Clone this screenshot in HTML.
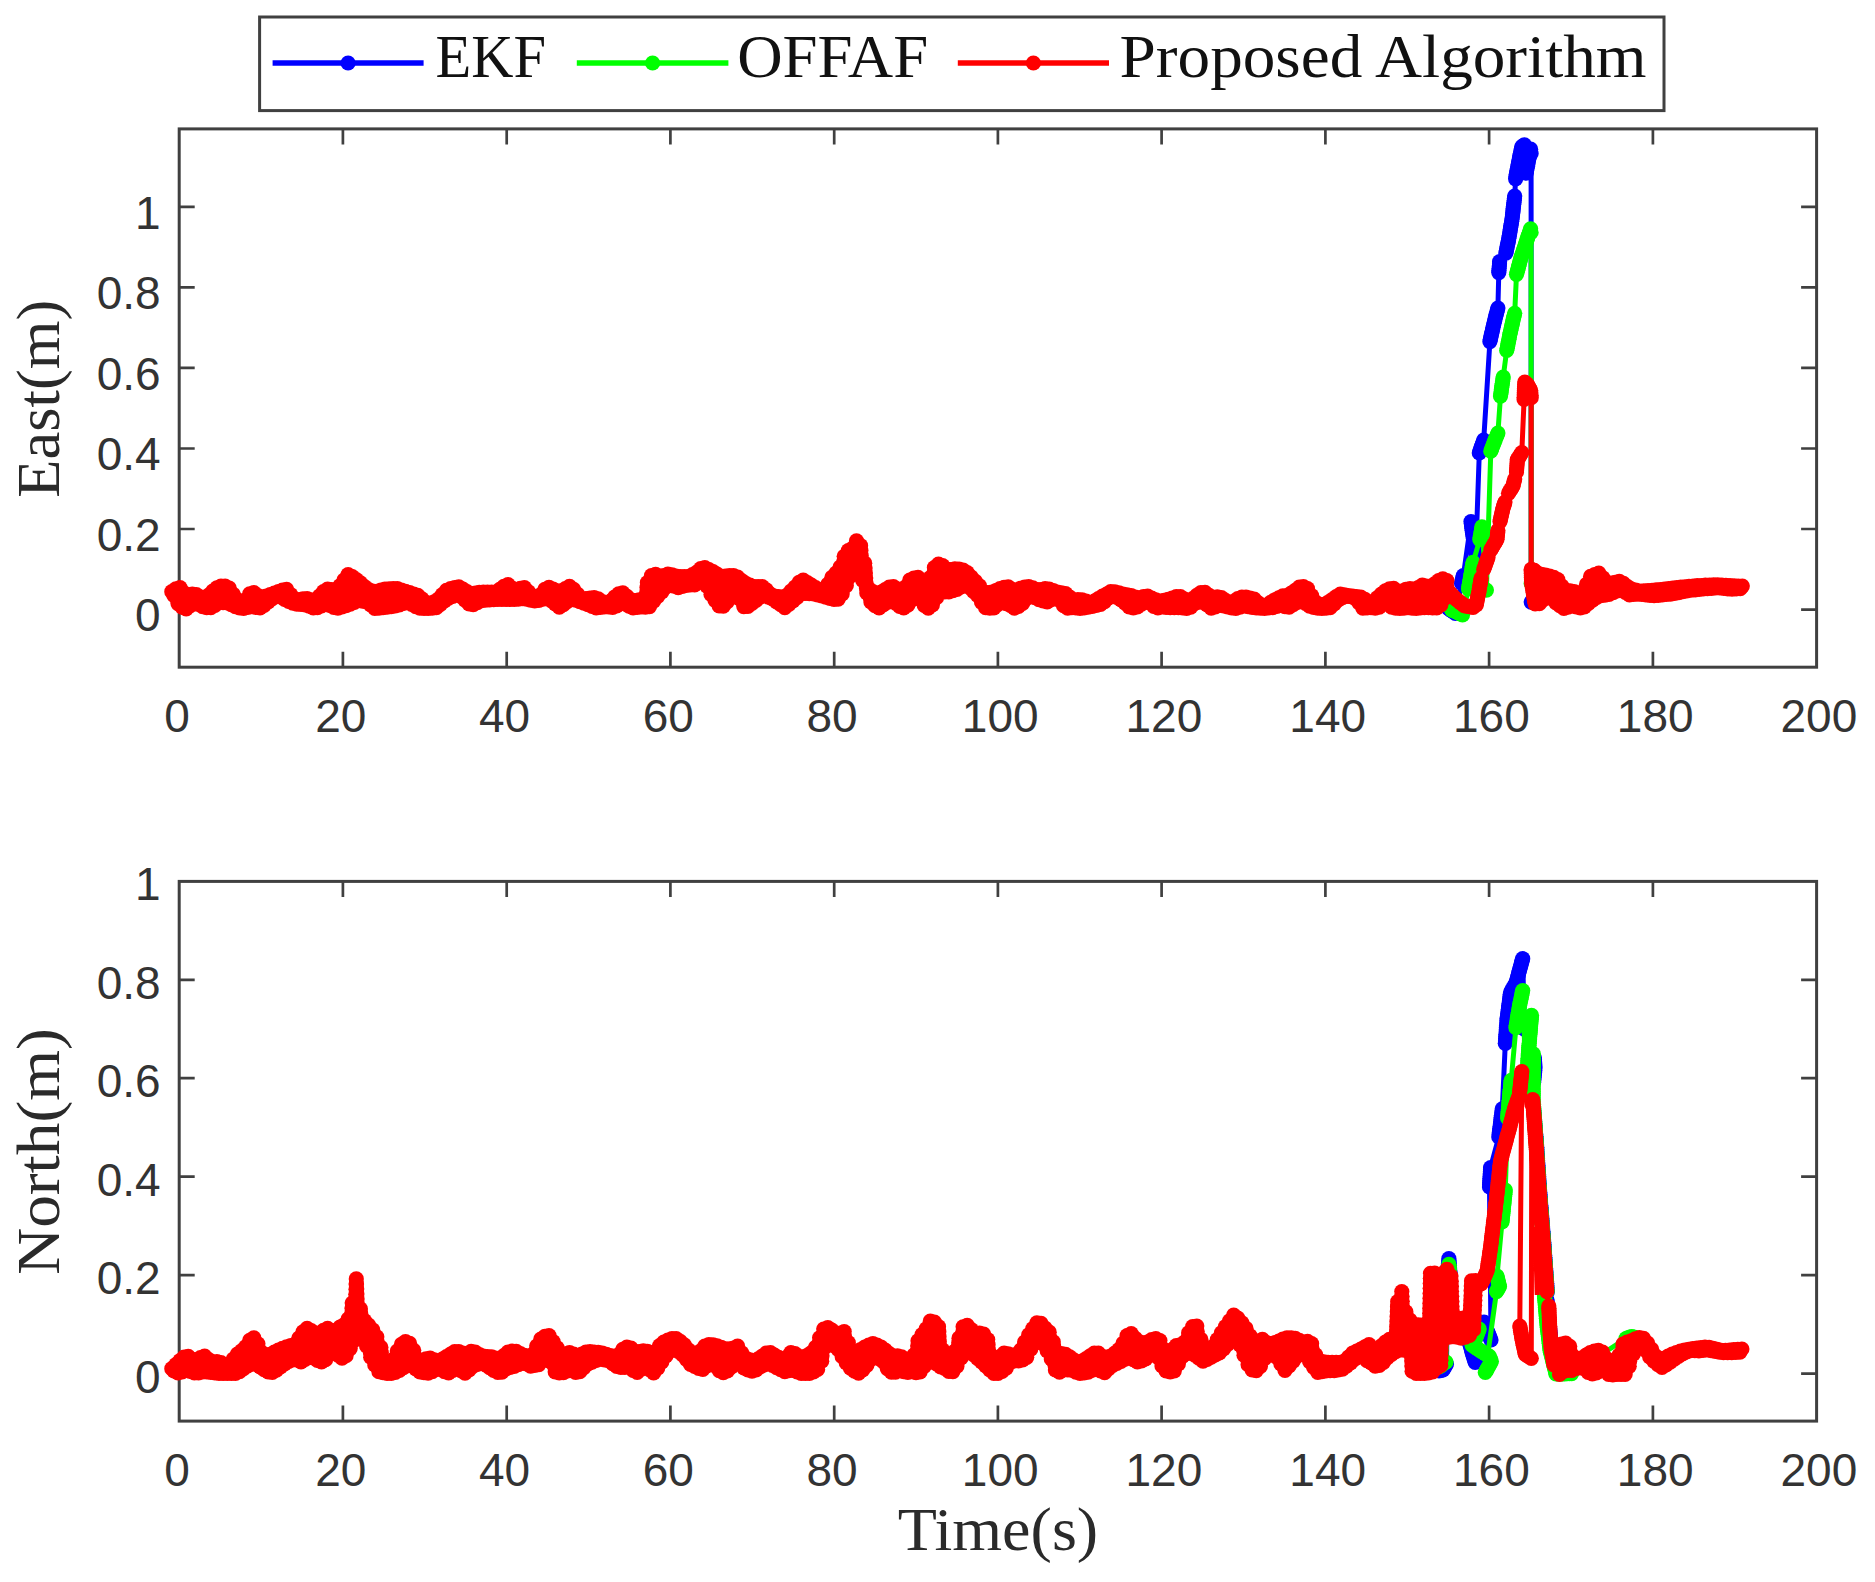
<!DOCTYPE html>
<html lang="en"><head><meta charset="utf-8"><title>Position error comparison</title>
<style>
html,body{margin:0;padding:0;background:#fff;}
body{width:1875px;height:1582px;overflow:hidden;}
svg{display:block;}
.tk{font-family:"Liberation Sans",sans-serif;font-size:46px;fill:#333;}
.lb{font-family:"Liberation Serif",serif;font-size:62px;}
</style></head><body>
<svg width="1875" height="1582" viewBox="0 0 1875 1582">
<defs>
<marker id="mb" markerUnits="userSpaceOnUse" markerWidth="20" markerHeight="20" refX="10" refY="10" viewBox="0 0 20 20"><circle cx="10" cy="10" r="7.6" fill="#0000ff"/></marker>
<marker id="mg" markerUnits="userSpaceOnUse" markerWidth="20" markerHeight="20" refX="10" refY="10" viewBox="0 0 20 20"><circle cx="10" cy="10" r="7.6" fill="#00ff00"/></marker>
<marker id="mr" markerUnits="userSpaceOnUse" markerWidth="20" markerHeight="20" refX="10" refY="10" viewBox="0 0 20 20"><circle cx="10" cy="10" r="7.6" fill="#ff0000"/></marker>
</defs>
<rect width="1875" height="1582" fill="#fff"/>
<rect x="259.6" y="17" width="1404.4" height="93.6" fill="#fff" stroke="#404040" stroke-width="3"/>
<line x1="272.6" y1="63" x2="423.6" y2="63" stroke="#0000ff" stroke-width="5.5"/>
<circle cx="348.1" cy="63" r="7.6" fill="#0000ff"/>
<text class="lb" x="435.6" y="77.1" fill="#111" textLength="110.5" lengthAdjust="spacingAndGlyphs">EKF</text>
<line x1="576.8" y1="63" x2="728.4" y2="63" stroke="#00ff00" stroke-width="5.5"/>
<circle cx="652.6" cy="63" r="7.6" fill="#00ff00"/>
<text class="lb" x="737.2" y="77.1" fill="#111" textLength="191.0" lengthAdjust="spacingAndGlyphs">OFFAF</text>
<line x1="957.8" y1="63" x2="1109.0" y2="63" stroke="#ff0000" stroke-width="5.5"/>
<circle cx="1033.4" cy="63" r="7.6" fill="#ff0000"/>
<text class="lb" x="1119.6" y="77.1" fill="#111" textLength="527.0" lengthAdjust="spacingAndGlyphs">Proposed Algorithm</text>
<rect x="179.2" y="128.9" width="1637.4" height="538.3" fill="#fff" stroke="#404040" stroke-width="3.0"/>
<path d="M342.9 667.2v-15.5M342.9 128.9v15.5M506.7 667.2v-15.5M506.7 128.9v15.5M670.4 667.2v-15.5M670.4 128.9v15.5M834.2 667.2v-15.5M834.2 128.9v15.5M997.9 667.2v-15.5M997.9 128.9v15.5M1161.6 667.2v-15.5M1161.6 128.9v15.5M1325.4 667.2v-15.5M1325.4 128.9v15.5M1489.1 667.2v-15.5M1489.1 128.9v15.5M1652.9 667.2v-15.5M1652.9 128.9v15.5M179.2 609.6h15.5M1816.6 609.6h-15.5M179.2 529.0h15.5M1816.6 529.0h-15.5M179.2 448.5h15.5M1816.6 448.5h-15.5M179.2 367.9h15.5M1816.6 367.9h-15.5M179.2 287.4h15.5M1816.6 287.4h-15.5M179.2 206.8h15.5M1816.6 206.8h-15.5" stroke="#404040" stroke-width="2.7" fill="none"/>
<text class="tk" x="177.1" y="731.8" text-anchor="middle">0</text>
<text class="tk" x="340.8" y="731.8" text-anchor="middle">20</text>
<text class="tk" x="504.6" y="731.8" text-anchor="middle">40</text>
<text class="tk" x="668.3" y="731.8" text-anchor="middle">60</text>
<text class="tk" x="832.1" y="731.8" text-anchor="middle">80</text>
<text class="tk" x="1000.2" y="731.8" text-anchor="middle">100</text>
<text class="tk" x="1163.9" y="731.8" text-anchor="middle">120</text>
<text class="tk" x="1327.7" y="731.8" text-anchor="middle">140</text>
<text class="tk" x="1491.4" y="731.8" text-anchor="middle">160</text>
<text class="tk" x="1655.2" y="731.8" text-anchor="middle">180</text>
<text class="tk" x="1818.9" y="731.8" text-anchor="middle">200</text>
<text class="tk" x="160.6" y="631.4" text-anchor="end">0</text>
<text class="tk" x="160.6" y="550.8" text-anchor="end">0.2</text>
<text class="tk" x="160.6" y="470.3" text-anchor="end">0.4</text>
<text class="tk" x="160.6" y="389.7" text-anchor="end">0.6</text>
<text class="tk" x="160.6" y="309.2" text-anchor="end">0.8</text>
<text class="tk" x="160.6" y="228.6" text-anchor="end">1</text>
<rect x="179.2" y="881.4" width="1637.4" height="539.7" fill="#fff" stroke="#404040" stroke-width="3.0"/>
<path d="M342.9 1421.1v-15.5M342.9 881.4v15.5M506.7 1421.1v-15.5M506.7 881.4v15.5M670.4 1421.1v-15.5M670.4 881.4v15.5M834.2 1421.1v-15.5M834.2 881.4v15.5M997.9 1421.1v-15.5M997.9 881.4v15.5M1161.6 1421.1v-15.5M1161.6 881.4v15.5M1325.4 1421.1v-15.5M1325.4 881.4v15.5M1489.1 1421.1v-15.5M1489.1 881.4v15.5M1652.9 1421.1v-15.5M1652.9 881.4v15.5M179.2 1373.6h15.5M1816.6 1373.6h-15.5M179.2 1275.1h15.5M1816.6 1275.1h-15.5M179.2 1176.7h15.5M1816.6 1176.7h-15.5M179.2 1078.2h15.5M1816.6 1078.2h-15.5M179.2 979.8h15.5M1816.6 979.8h-15.5" stroke="#404040" stroke-width="2.7" fill="none"/>
<text class="tk" x="177.1" y="1485.7" text-anchor="middle">0</text>
<text class="tk" x="340.8" y="1485.7" text-anchor="middle">20</text>
<text class="tk" x="504.6" y="1485.7" text-anchor="middle">40</text>
<text class="tk" x="668.3" y="1485.7" text-anchor="middle">60</text>
<text class="tk" x="832.1" y="1485.7" text-anchor="middle">80</text>
<text class="tk" x="1000.2" y="1485.7" text-anchor="middle">100</text>
<text class="tk" x="1163.9" y="1485.7" text-anchor="middle">120</text>
<text class="tk" x="1327.7" y="1485.7" text-anchor="middle">140</text>
<text class="tk" x="1491.4" y="1485.7" text-anchor="middle">160</text>
<text class="tk" x="1655.2" y="1485.7" text-anchor="middle">180</text>
<text class="tk" x="1818.9" y="1485.7" text-anchor="middle">200</text>
<text class="tk" x="160.6" y="1392.5" text-anchor="end">0</text>
<text class="tk" x="160.6" y="1294.0" text-anchor="end">0.2</text>
<text class="tk" x="160.6" y="1195.6" text-anchor="end">0.4</text>
<text class="tk" x="160.6" y="1097.1" text-anchor="end">0.6</text>
<text class="tk" x="160.6" y="998.7" text-anchor="end">0.8</text>
<text class="tk" x="160.6" y="900.2" text-anchor="end">1</text>
<text class="lb" fill="#2a2a2a" transform="translate(59.1,398.7) rotate(-90)" text-anchor="middle" textLength="198" lengthAdjust="spacingAndGlyphs">East(m)</text>
<text class="lb" fill="#2a2a2a" transform="translate(58.9,1151.6) rotate(-90)" text-anchor="middle" textLength="247" lengthAdjust="spacingAndGlyphs">North(m)</text>
<text class="lb" fill="#2a2a2a" x="997.9" y="1550.1" text-anchor="middle" textLength="200.5" lengthAdjust="spacingAndGlyphs">Time(s)</text>
<g>
<polyline points="1441.2,592.4 1442.1,594.4 1443.0,596.4 1443.9,598.4 1444.8,600.4 1445.7,602.3 1446.5,604.3 1447.4,606.3 1448.3,608.3 1450.1,609.6 1451.9,610.8 1453.6,612.0 1455.4,613.3 1461.6,583.5 1462.0,581.5 1462.5,579.6 1462.9,577.6 1463.4,575.6 1471.0,521.6 1471.3,523.8 1471.6,526.0 1471.9,528.2 1472.2,530.4 1472.5,532.5 1472.8,534.6 1473.1,536.6 1473.4,538.7 1473.7,540.8 1474.0,542.8 1474.4,545.3 1474.9,547.7 1475.3,550.1 1475.8,552.6 1479.3,452.9 1480.0,450.8 1480.8,448.7 1481.5,446.5 1482.2,444.4 1483.0,442.3 1483.7,440.2 1489.9,341.6 1490.4,339.6 1490.8,337.5 1491.2,335.5 1491.7,333.5 1492.1,331.4 1492.6,329.4 1493.0,327.3 1493.5,325.3 1494.0,323.1 1494.6,321.0 1495.1,318.8 1495.7,316.6 1496.2,314.5 1496.8,312.3 1497.3,310.1 1497.9,308.0 1498.8,272.6 1498.9,270.4 1499.1,268.2 1499.3,266.0 1499.5,263.8 1499.6,261.6 1505.8,253.1 1506.3,251.0 1506.7,248.8 1507.2,246.7 1507.6,244.6 1508.1,242.5 1508.5,240.4 1508.8,238.2 1509.2,236.1 1509.6,234.0 1509.9,231.9 1510.3,229.7 1510.6,227.6 1511.0,225.5 1511.3,223.4 1511.7,221.2 1512.0,219.1 1512.3,217.0 1512.5,214.9 1512.8,212.8 1513.0,210.7 1513.2,208.7 1513.5,206.6 1513.7,204.5 1514.0,202.4 1514.2,200.3 1514.4,198.2 1514.7,196.1 1515.6,178.8 1516.0,176.7 1516.3,174.6 1516.7,172.5 1517.1,170.5 1517.5,168.4 1517.9,166.3 1518.2,164.2 1518.7,162.1 1519.1,159.9 1519.6,157.7 1520.0,155.6 1520.4,153.4 1520.9,151.2 1521.3,149.1 1521.8,146.9 1523.1,145.8 1524.4,144.8 1526.2,173.1 1526.6,170.8 1527.0,168.5 1527.5,166.2 1527.9,163.9 1528.3,161.6 1528.7,159.5 1529.1,157.5 1529.5,155.4 1529.9,153.3 1530.2,151.3 1530.6,149.2 1531.1,153.6 1531.2,602.1" fill="none" stroke="#0000ff" stroke-width="5.0" stroke-linejoin="round" stroke-linecap="round" marker-start="url(#mb)" marker-mid="url(#mb)" marker-end="url(#mb)"/>
<polyline points="1443.0,592.4 1444.0,594.4 1445.0,596.3 1446.0,598.3 1446.9,600.3 1447.9,602.2 1448.9,604.2 1449.9,606.2 1450.9,608.1 1451.9,610.1 1454.0,611.0 1456.1,612.0 1458.2,613.0 1460.4,613.9 1462.5,614.9 1468.5,588.8 1468.9,586.6 1469.3,584.4 1469.6,582.2 1470.0,580.0 1470.4,577.8 1470.8,575.6 1471.2,573.4 1471.6,571.2 1471.9,568.9 1472.3,566.7 1472.7,564.5 1473.1,562.3 1479.8,539.6 1480.2,537.5 1480.5,535.4 1480.9,533.3 1481.2,531.2 1481.6,529.0 1481.9,526.9 1486.4,590.1 1490.8,451.2 1491.7,448.8 1492.6,446.5 1493.5,444.2 1494.3,441.9 1495.2,439.7 1496.1,437.5 1497.0,435.3 1497.9,433.1 1500.5,396.1 1500.8,394.0 1501.1,391.9 1501.4,389.7 1501.7,387.6 1502.0,385.5 1502.3,383.4 1502.6,381.2 1502.9,379.1 1503.2,377.0 1506.7,350.4 1507.2,348.2 1507.6,345.9 1508.1,343.7 1508.5,341.4 1508.9,339.2 1509.4,336.9 1509.8,334.6 1510.3,332.4 1510.8,330.3 1511.2,328.1 1511.7,326.0 1512.2,323.9 1512.7,321.8 1513.2,319.6 1513.7,317.5 1514.2,315.4 1514.7,313.3 1516.5,274.3 1517.0,272.3 1517.6,270.3 1518.1,268.2 1518.7,266.2 1519.2,264.2 1519.8,262.1 1520.3,260.1 1520.9,258.1 1521.5,256.1 1522.2,254.1 1522.9,252.1 1523.5,250.1 1524.2,248.1 1524.9,246.1 1525.5,244.1 1526.2,242.1 1526.9,239.9 1527.7,237.7 1528.4,235.5 1529.1,233.3 1529.9,231.1 1530.6,228.8 1531.1,232.4 1531.2,583.5" fill="none" stroke="#00ff00" stroke-width="5.0" stroke-linejoin="round" stroke-linecap="round" marker-start="url(#mg)" marker-mid="url(#mg)" marker-end="url(#mg)"/>
<polyline points="171.8,591.7 173.9,595.4 175.9,588.9 176.6,593.8 177.3,598.7 178.0,603.6 178.6,598.3 179.3,593.0 180.0,587.7 180.5,592.6 181.0,597.5 181.6,602.3 182.1,607.2 182.7,602.4 183.4,597.6 184.1,592.9 184.8,598.2 185.5,603.6 186.2,609.0 186.8,604.4 187.5,599.8 188.2,595.1 189.2,600.4 190.3,605.7 191.3,599.9 192.3,594.0 193.3,598.2 194.4,602.3 195.4,598.4 196.4,594.6 197.4,599.5 198.5,604.4 199.5,600.7 200.5,597.0 201.5,601.8 202.6,606.6 203.6,602.8 204.6,599.1 205.6,603.4 206.7,607.6 207.3,603.4 208.0,599.2 208.7,595.0 209.4,599.2 210.1,603.4 210.8,607.6 211.4,602.1 212.1,596.6 212.8,591.1 213.5,595.8 214.2,600.5 214.9,605.3 215.4,600.9 215.9,596.5 216.4,592.2 216.9,587.8 217.6,592.6 218.3,597.4 219.0,602.2 219.6,596.9 220.3,591.5 221.0,586.2 221.7,591.7 222.4,597.1 223.1,602.6 223.7,597.1 224.4,591.7 225.1,586.2 225.8,591.8 226.5,597.4 227.2,603.0 227.8,598.0 228.5,593.0 229.2,588.0 229.9,593.6 230.6,599.2 231.3,604.7 232.3,599.6 233.3,594.4 234.0,598.5 234.7,602.6 235.4,606.7 237.4,599.6 238.4,603.7 239.5,607.8 241.5,603.7 243.6,608.3 244.6,604.2 245.6,600.1 246.6,603.8 247.7,607.5 248.3,603.0 249.0,598.5 249.7,593.9 250.4,598.2 251.1,602.5 251.8,606.7 252.4,602.0 253.1,597.3 253.8,592.6 254.5,597.5 255.2,602.4 255.9,607.3 256.9,601.4 257.9,595.5 258.6,599.6 259.3,603.8 260.0,607.9 261.0,602.5 262.0,597.1 263.0,601.2 264.1,605.3 265.1,600.7 266.1,596.1 268.2,602.0 269.2,598.4 270.2,594.7 272.3,598.7 274.3,593.1 276.4,595.4 278.4,591.5 280.5,597.0 282.5,590.0 283.5,594.7 284.6,599.5 285.6,594.5 286.6,589.4 287.6,595.4 288.7,601.4 290.7,594.6 291.7,598.8 292.8,603.1 294.8,599.8 296.9,604.1 298.9,599.5 301.0,604.5 303.0,598.8 305.1,604.8 307.1,598.7 308.1,602.4 309.2,606.2 311.2,599.9 312.2,603.9 313.3,607.8 315.3,600.8 317.4,607.6 318.4,601.9 319.4,596.1 320.4,601.0 321.5,605.9 322.1,601.1 322.8,596.3 323.5,591.5 324.2,595.7 324.9,599.9 325.6,604.2 326.2,599.1 326.9,594.0 327.6,589.0 328.3,594.5 329.0,600.0 329.7,605.5 330.3,600.2 331.0,594.9 331.7,589.5 332.2,593.9 332.7,598.4 333.3,602.8 333.8,607.3 334.4,601.5 335.1,595.8 335.8,590.1 336.3,594.6 336.8,599.1 337.4,603.7 337.9,608.2 338.4,602.6 338.9,597.1 339.4,591.5 339.9,585.9 340.4,591.2 340.9,596.4 341.5,601.7 342.0,607.0 342.4,601.6 342.8,596.3 343.2,590.9 343.6,585.6 344.0,580.2 344.4,585.3 344.8,590.4 345.2,595.5 345.7,600.6 346.1,605.7 346.4,600.5 346.7,595.3 347.1,590.1 347.4,584.9 347.8,579.7 348.1,574.6 348.5,579.5 348.8,584.4 349.1,589.4 349.5,594.3 349.8,599.3 350.2,604.2 350.5,599.6 350.8,595.0 351.2,590.3 351.5,585.7 351.9,581.1 352.2,576.5 352.6,581.7 353.0,586.8 353.4,592.0 353.9,597.2 354.3,602.3 354.7,597.8 355.1,593.2 355.5,588.6 355.9,584.0 356.3,579.5 356.8,584.7 357.3,590.0 357.9,595.2 358.4,600.5 358.9,596.0 359.4,591.6 359.9,587.2 360.4,582.8 360.9,587.4 361.4,592.0 362.0,596.6 362.5,601.1 363.1,596.3 363.8,591.4 364.5,586.5 365.2,591.6 365.9,596.8 366.6,602.0 367.6,595.8 368.6,589.6 369.3,594.7 370.0,599.8 370.7,604.8 371.3,600.3 372.0,595.7 372.7,591.2 373.4,596.9 374.1,602.7 374.8,608.4 375.4,602.7 376.1,597.1 376.8,591.4 377.5,597.0 378.2,602.6 378.9,608.1 379.4,603.7 379.9,599.2 380.4,594.7 380.9,590.2 381.4,594.6 381.9,599.0 382.5,603.3 383.0,607.7 383.5,603.1 384.0,598.5 384.5,593.8 385.0,589.2 385.5,593.7 386.0,598.2 386.6,602.7 387.1,607.2 387.6,602.6 388.1,598.0 388.6,593.5 389.1,588.9 389.6,593.3 390.1,597.8 390.7,602.2 391.2,606.6 391.7,602.1 392.2,597.6 392.7,593.1 393.2,588.6 393.7,593.0 394.2,597.3 394.8,601.7 395.3,606.0 395.8,601.7 396.3,597.3 396.8,592.9 397.3,588.6 398.0,594.0 398.7,599.5 399.4,604.9 400.0,599.9 400.7,594.9 401.4,590.0 402.1,594.5 402.8,599.0 403.5,603.5 404.5,597.4 405.5,591.3 406.5,596.8 407.6,602.2 408.6,597.4 409.6,592.7 410.6,598.5 411.7,604.4 412.7,599.2 413.7,594.1 414.4,598.2 415.1,602.4 415.8,606.6 416.8,601.0 417.8,595.4 418.5,599.6 419.2,603.9 419.9,608.1 420.9,603.4 421.9,598.8 422.9,603.5 424.0,608.3 426.0,602.5 428.1,608.5 430.1,603.0 432.2,608.1 434.2,601.8 436.3,607.7 437.3,603.4 438.3,599.2 440.4,604.5 441.4,599.6 442.4,594.7 444.5,601.0 445.5,595.7 446.5,590.3 447.5,594.2 448.6,598.1 449.6,593.3 450.6,588.5 451.6,592.4 452.7,596.4 453.7,591.9 454.7,587.5 456.8,594.7 457.8,590.8 458.8,586.8 459.8,591.6 460.9,596.4 462.9,589.2 463.9,594.7 465.0,600.2 466.0,595.9 467.0,591.5 467.7,595.7 468.4,599.8 469.1,604.0 470.1,598.9 471.1,593.8 472.1,599.3 473.2,604.7 474.2,598.9 475.2,593.1 476.2,597.9 477.3,602.7 478.3,597.6 479.3,592.4 480.3,596.5 481.4,600.6 482.4,596.3 483.4,592.0 484.4,596.1 485.5,600.2 486.5,596.1 487.5,592.0 488.5,595.9 489.6,599.9 490.6,595.9 491.6,592.0 492.6,595.8 493.7,599.6 494.7,595.8 495.7,592.0 496.7,595.7 497.8,599.5 498.8,594.5 499.8,589.4 500.8,594.5 501.9,599.5 502.5,595.1 503.2,590.7 503.9,586.4 504.6,590.7 505.3,595.1 506.0,599.5 506.6,594.5 507.3,589.5 508.0,584.5 508.7,589.5 509.4,594.5 510.1,599.5 511.1,593.8 512.1,588.2 513.1,593.8 514.2,599.5 515.2,595.1 516.2,590.6 517.2,594.9 518.3,599.1 519.3,593.8 520.3,588.4 521.3,593.5 522.4,598.7 523.4,593.1 524.4,587.5 525.4,593.3 526.5,599.2 527.5,595.5 528.5,591.9 529.5,596.0 530.6,600.1 532.6,596.2 534.7,600.9 536.7,599.6 538.8,600.4 540.8,594.5 542.9,599.1 543.9,594.2 544.9,589.4 545.9,593.5 547.0,597.7 548.0,592.5 549.0,587.4 549.7,591.8 550.4,596.3 551.1,600.7 552.1,594.9 553.1,589.1 553.8,594.1 554.5,599.0 555.2,604.0 555.8,599.6 556.5,595.2 557.2,590.9 557.9,596.3 558.6,601.7 559.3,607.2 559.9,601.8 560.6,596.5 561.3,591.1 562.0,595.7 562.7,600.2 563.4,604.7 564.0,599.4 564.7,594.1 565.4,588.7 566.1,592.9 566.8,597.1 567.5,601.3 568.1,596.3 568.8,591.3 569.5,586.4 570.2,590.5 570.9,594.7 571.6,598.8 572.6,594.1 573.6,589.3 574.6,594.7 575.7,600.2 577.7,594.4 579.8,601.6 581.8,599.2 583.9,603.1 585.9,598.7 588.0,604.7 590.0,598.2 591.0,602.3 592.1,606.4 593.1,602.0 594.1,597.7 595.1,602.8 596.2,608.0 597.2,603.4 598.2,598.8 599.2,603.2 600.3,607.5 602.3,601.6 604.4,607.0 606.4,604.3 608.5,606.9 610.5,601.2 612.6,607.4 613.6,602.3 614.6,597.1 615.6,601.5 616.7,605.8 617.7,599.8 618.7,593.9 619.7,598.3 620.8,602.7 621.8,597.8 622.8,592.8 623.8,598.4 624.9,604.0 625.9,600.2 626.9,596.3 627.9,601.3 629.0,606.2 631.0,599.9 632.0,603.9 633.1,607.9 634.1,604.3 635.1,600.6 637.2,607.4 638.2,603.7 639.2,599.9 641.3,607.0 642.3,603.0 643.3,599.0 644.3,603.0 645.4,607.1 645.8,602.2 646.2,597.3 646.6,592.4 647.0,587.5 647.4,582.6 647.8,587.4 648.2,592.2 648.6,597.0 649.1,601.8 649.5,606.6 649.8,601.4 650.1,596.3 650.5,591.1 650.8,585.9 651.2,580.8 651.5,575.6 651.9,580.7 652.3,585.8 652.7,590.9 653.2,596.0 653.6,601.1 654.0,595.8 654.4,590.4 654.8,585.1 655.2,579.8 655.6,574.4 656.1,579.9 656.6,585.4 657.2,590.9 657.7,596.4 658.2,591.3 658.7,586.2 659.2,581.1 659.7,576.0 660.4,581.2 661.1,586.5 661.8,591.8 662.4,586.4 663.1,581.0 663.8,575.7 664.8,581.4 665.9,587.2 666.5,582.8 667.2,578.5 667.9,574.1 668.9,579.4 670.0,584.6 671.0,579.7 672.0,574.9 673.0,580.6 674.1,586.2 675.1,581.2 676.1,576.1 677.1,581.8 678.2,587.6 679.2,582.1 680.2,576.6 681.2,581.6 682.3,586.5 683.3,581.6 684.3,576.6 685.3,581.1 686.4,585.5 687.4,581.1 688.4,576.6 689.4,580.8 690.5,585.0 691.5,579.8 692.5,574.6 693.5,579.8 694.6,585.0 695.2,580.7 695.9,576.5 696.6,572.3 697.6,577.4 698.7,582.5 699.3,577.9 700.0,573.3 700.7,568.7 701.7,573.8 702.8,578.9 703.8,573.2 704.8,567.5 705.3,572.1 705.8,576.8 706.4,581.5 706.9,586.2 707.5,580.6 708.2,575.1 708.9,569.5 709.3,574.5 709.7,579.5 710.1,584.4 710.6,589.4 711.0,594.4 711.4,589.8 711.8,585.3 712.2,580.7 712.6,576.2 713.0,571.7 713.4,576.5 713.7,581.3 714.0,586.1 714.4,590.9 714.7,595.7 715.1,600.5 715.5,595.2 715.9,590.0 716.3,584.7 716.7,579.4 717.1,574.1 717.5,579.4 717.8,584.7 718.1,590.0 718.5,595.3 718.8,600.6 719.2,605.9 719.5,601.0 719.8,596.1 720.2,591.2 720.5,586.3 720.9,581.5 721.2,576.6 721.6,581.5 721.9,586.5 722.2,591.4 722.6,596.4 722.9,601.3 723.3,606.2 723.6,601.2 723.9,596.2 724.3,591.2 724.6,586.1 725.0,581.1 725.3,576.1 725.7,581.2 726.1,586.3 726.5,591.4 727.0,596.5 727.4,601.6 727.8,596.4 728.2,591.2 728.6,586.1 729.0,580.9 729.4,575.7 729.9,580.9 730.4,586.2 731.0,591.4 731.5,596.6 732.0,591.4 732.5,586.2 733.0,580.9 733.5,575.7 734.2,581.0 734.9,586.2 735.6,591.5 736.2,586.7 736.9,582.0 737.6,577.2 738.1,582.6 738.6,588.0 739.2,593.4 739.7,598.8 740.2,594.2 740.7,589.6 741.2,585.0 741.7,580.5 742.1,585.7 742.5,590.9 742.9,596.1 743.4,601.3 743.8,606.6 744.2,601.9 744.6,597.3 745.0,592.6 745.4,588.0 745.8,583.3 746.2,587.9 746.6,592.6 747.0,597.2 747.5,601.8 747.9,606.4 748.4,601.0 748.9,595.7 749.4,590.3 749.9,585.0 750.4,589.6 750.9,594.2 751.5,598.9 752.0,603.5 752.6,597.9 753.3,592.2 754.0,586.6 754.7,591.2 755.4,595.8 756.1,600.4 756.7,595.8 757.4,591.2 758.1,586.6 759.1,591.9 760.2,597.1 761.2,591.9 762.2,586.6 763.2,591.0 764.3,595.5 766.3,589.9 768.4,597.1 770.4,594.0 772.5,598.9 774.5,596.0 776.6,601.8 778.6,596.6 779.6,600.7 780.7,604.7 781.7,601.0 782.7,597.2 783.7,602.4 784.8,607.6 785.8,601.4 786.8,595.3 787.8,599.8 788.9,604.3 789.5,599.9 790.2,595.6 790.9,591.2 791.9,596.1 793.0,601.0 793.6,596.3 794.3,591.7 795.0,587.0 796.0,592.2 797.1,597.4 797.7,592.4 798.4,587.4 799.1,582.4 800.1,588.1 801.2,593.8 801.8,589.2 802.5,584.7 803.2,580.1 803.9,584.5 804.6,589.0 805.3,593.4 806.3,588.0 807.3,582.6 808.3,588.2 809.4,593.7 810.4,589.4 811.4,585.1 812.4,589.6 813.5,594.0 815.5,587.5 816.5,591.2 817.6,595.0 819.6,589.5 821.7,596.0 823.7,591.6 825.8,597.1 826.4,592.9 827.1,588.6 827.8,584.4 828.5,589.1 829.2,593.8 829.9,598.5 830.4,593.2 830.9,587.9 831.4,582.6 831.9,577.3 832.4,582.9 832.9,588.4 833.5,594.0 834.0,599.5 834.4,594.2 834.8,589.0 835.2,583.7 835.6,578.5 836.0,573.2 836.4,578.4 836.8,583.6 837.2,588.8 837.7,594.0 838.1,599.2 838.4,593.9 838.7,588.6 839.1,583.2 839.4,577.9 839.8,572.6 840.1,567.2 840.5,572.5 840.9,577.8 841.3,583.2 841.8,588.5 842.2,593.8 842.5,588.4 842.7,583.1 843.0,577.7 843.3,572.4 843.6,567.0 843.9,561.7 844.2,556.3 844.6,561.2 844.9,566.1 845.2,571.0 845.6,575.9 845.9,580.8 846.3,585.6 846.6,580.6 846.8,575.6 847.1,570.7 847.4,565.7 847.7,560.7 848.0,555.7 848.3,550.7 848.7,555.7 849.1,560.8 849.5,565.9 850.0,571.0 850.4,576.1 850.7,571.5 851.0,566.8 851.4,562.2 851.7,557.6 852.1,553.0 852.4,548.4 852.8,553.1 853.2,557.8 853.6,562.6 854.1,567.3 854.5,572.0 854.8,566.8 855.1,561.6 855.5,556.5 855.8,551.3 856.2,546.1 856.5,540.9 857.0,546.3 857.5,551.8 858.1,557.2 858.6,562.7 859.2,557.0 859.9,551.3 860.6,545.7 860.9,550.6 861.2,555.6 861.5,560.6 861.8,565.5 862.1,570.5 862.4,575.5 862.7,580.4 863.3,574.7 864.0,568.9 864.7,563.2 865.1,568.1 865.4,573.1 865.7,578.1 866.1,583.0 866.4,588.0 866.8,592.9 868.8,588.8 869.5,593.2 870.2,597.6 870.9,602.0 871.9,596.9 872.9,591.7 873.6,596.4 874.3,601.0 875.0,605.7 875.6,601.6 876.3,597.5 877.0,593.3 877.7,598.1 878.4,603.0 879.1,607.8 879.7,602.5 880.4,597.3 881.1,592.0 881.8,596.3 882.5,600.6 883.2,604.8 883.8,599.8 884.5,594.7 885.2,589.6 885.9,593.9 886.6,598.2 887.3,602.5 887.9,597.4 888.6,592.2 889.3,587.1 890.0,591.5 890.7,596.0 891.4,600.5 892.0,595.9 892.7,591.2 893.4,586.6 894.1,592.1 894.8,597.7 895.5,603.2 896.1,598.5 896.8,593.7 897.5,589.0 898.2,594.8 898.9,600.5 899.6,606.3 900.2,601.3 900.9,596.4 901.6,591.4 902.3,596.9 903.0,602.3 903.7,607.8 904.2,602.5 904.7,597.3 905.2,592.0 905.7,586.8 906.2,591.4 906.7,596.0 907.3,600.6 907.8,605.2 908.2,600.2 908.6,595.2 909.0,590.2 909.4,585.2 909.8,580.1 910.3,585.1 910.8,590.0 911.4,594.9 911.9,599.8 912.4,594.4 912.9,588.9 913.4,583.5 913.9,578.1 914.6,582.6 915.3,587.1 916.0,591.6 916.6,586.8 917.3,582.1 918.0,577.3 918.5,582.4 919.0,587.4 919.6,592.5 920.1,597.5 920.7,591.9 921.4,586.3 922.1,580.8 922.5,585.7 922.9,590.6 923.3,595.5 923.8,600.4 924.2,605.3 924.7,599.9 925.2,594.5 925.7,589.0 926.2,583.6 926.6,588.5 927.0,593.4 927.4,598.3 927.9,603.3 928.3,608.2 928.6,603.1 928.9,598.0 929.3,592.9 929.6,587.7 930.0,582.6 930.3,577.5 930.7,583.0 931.1,588.4 931.5,593.9 932.0,599.3 932.4,604.8 932.7,599.4 932.9,594.1 933.2,588.8 933.5,583.5 933.8,578.1 934.1,572.8 934.4,567.5 934.8,572.5 935.1,577.6 935.4,582.6 935.8,587.7 936.1,592.7 936.5,597.7 936.8,592.9 937.0,588.1 937.3,583.3 937.6,578.4 937.9,573.6 938.2,568.8 938.5,564.0 938.9,569.4 939.3,574.9 939.7,580.4 940.2,585.9 940.6,591.3 941.0,586.2 941.4,581.0 941.8,575.8 942.2,570.7 942.6,565.5 943.0,570.8 943.4,576.0 943.8,581.3 944.3,586.5 944.7,591.8 945.1,587.3 945.5,582.7 945.9,578.2 946.3,573.7 946.7,569.2 947.1,573.7 947.5,578.3 947.9,582.8 948.4,587.3 948.8,591.9 949.3,586.3 949.8,580.7 950.3,575.2 950.8,569.6 951.3,574.9 951.8,580.1 952.4,585.4 952.9,590.7 953.4,585.2 953.9,579.7 954.4,574.2 954.9,568.8 955.4,573.9 955.9,579.1 956.5,584.3 957.0,589.4 957.5,584.3 958.0,579.2 958.5,574.1 959.0,569.0 959.5,573.5 960.0,578.0 960.6,582.5 961.1,587.0 961.7,581.4 962.4,575.8 963.1,570.2 963.8,575.0 964.5,579.7 965.2,584.5 966.2,578.5 967.2,572.5 967.9,577.4 968.6,582.3 969.3,587.3 970.3,582.2 971.3,577.1 972.0,581.8 972.7,586.6 973.4,591.4 974.4,586.4 975.4,581.4 976.1,586.1 976.8,590.8 977.5,595.5 978.5,590.7 979.5,585.9 980.2,591.4 980.9,596.9 981.6,602.4 982.6,597.3 983.6,592.1 984.3,597.3 985.0,602.5 985.7,607.7 986.3,602.6 987.0,597.6 987.7,592.5 988.4,597.7 989.1,602.9 989.8,608.1 990.4,602.8 991.1,597.4 991.8,592.1 992.5,597.4 993.2,602.6 993.9,607.9 994.5,602.1 995.2,596.4 995.9,590.6 996.6,595.2 997.3,599.7 998.0,604.3 998.6,599.1 999.3,593.8 1000.0,588.5 1000.7,593.2 1001.4,597.9 1002.1,602.5 1002.7,597.5 1003.4,592.4 1004.1,587.4 1004.8,592.8 1005.5,598.2 1006.2,603.6 1006.8,598.0 1007.5,592.4 1008.2,586.8 1008.7,591.5 1009.2,596.2 1009.8,600.9 1010.3,605.5 1010.9,600.2 1011.6,594.8 1012.3,589.4 1012.8,594.1 1013.3,598.7 1013.9,603.4 1014.4,608.1 1014.9,603.7 1015.4,599.2 1015.9,594.8 1016.4,590.3 1017.1,595.6 1017.8,601.0 1018.5,606.3 1019.0,601.8 1019.5,597.3 1020.0,592.8 1020.5,588.3 1021.2,593.3 1021.9,598.4 1022.6,603.5 1023.2,598.0 1023.9,592.6 1024.6,587.1 1025.6,592.7 1026.7,598.4 1027.7,592.5 1028.7,586.6 1029.7,591.1 1030.8,595.5 1031.8,591.7 1032.8,587.8 1033.8,592.7 1034.9,597.6 1035.9,593.5 1036.9,589.5 1037.9,594.5 1039.0,599.6 1040.0,594.6 1041.0,589.6 1042.0,595.3 1043.1,600.9 1044.1,594.8 1045.1,588.7 1045.8,593.1 1046.5,597.5 1047.2,601.9 1047.8,597.7 1048.5,593.4 1049.2,589.2 1050.2,594.4 1051.3,599.6 1052.3,595.2 1053.3,590.7 1055.4,597.4 1057.4,592.1 1058.4,596.2 1059.5,600.3 1060.5,596.6 1061.5,592.9 1062.2,597.2 1062.9,601.4 1063.6,605.7 1064.6,599.7 1065.6,593.7 1066.3,598.6 1067.0,603.4 1067.7,608.2 1068.7,602.7 1069.7,597.2 1070.7,602.5 1071.8,607.7 1072.8,603.9 1073.8,600.0 1074.8,604.0 1075.9,607.9 1076.9,603.7 1077.9,599.5 1078.9,604.0 1080.0,608.4 1081.0,604.1 1082.0,599.8 1083.0,603.8 1084.1,607.8 1086.1,601.2 1088.2,607.2 1090.2,602.5 1092.3,606.4 1094.3,601.0 1096.4,605.4 1098.4,598.6 1100.5,604.3 1101.5,600.3 1102.5,596.2 1104.6,601.6 1105.6,597.8 1106.6,594.0 1108.7,597.9 1110.7,591.7 1112.8,595.3 1114.8,591.8 1116.9,597.5 1118.9,592.9 1121.0,599.8 1123.0,594.0 1124.0,598.5 1125.1,603.1 1126.1,599.0 1127.1,594.8 1128.1,600.8 1129.2,606.8 1130.2,601.2 1131.2,595.6 1132.2,601.8 1133.3,607.9 1134.3,602.6 1135.3,597.2 1136.3,602.0 1137.4,606.9 1138.4,602.4 1139.4,597.9 1141.5,604.2 1142.5,600.4 1143.5,596.5 1145.6,601.0 1147.6,596.1 1149.7,603.0 1151.7,598.0 1152.7,602.1 1153.8,606.3 1155.8,599.8 1156.8,603.8 1157.9,607.8 1159.9,601.0 1162.0,606.9 1164.0,600.3 1166.1,607.3 1167.1,603.4 1168.1,599.4 1169.1,603.5 1170.2,607.6 1171.2,602.9 1172.2,598.1 1173.2,602.9 1174.3,607.6 1175.3,602.1 1176.3,596.6 1177.3,602.1 1178.4,607.6 1179.4,602.1 1180.4,596.5 1181.4,602.2 1182.5,607.9 1183.5,603.5 1184.5,599.1 1185.5,603.7 1186.6,608.3 1188.6,601.7 1190.7,607.1 1191.7,602.9 1192.7,598.7 1194.8,603.5 1195.8,599.4 1196.8,595.3 1198.9,602.2 1199.9,597.5 1200.9,592.7 1201.9,597.5 1203.0,602.2 1204.0,597.2 1205.0,592.3 1205.7,596.5 1206.4,600.7 1207.1,604.9 1208.1,600.2 1209.1,595.4 1209.8,599.7 1210.5,603.9 1211.2,608.1 1212.2,602.7 1213.2,597.3 1214.2,602.1 1215.3,606.9 1216.3,601.9 1217.3,596.8 1218.3,601.0 1219.4,605.1 1220.4,601.4 1221.4,597.6 1222.4,601.7 1223.5,605.8 1225.5,600.3 1227.6,606.8 1229.6,603.0 1231.7,607.8 1233.7,601.3 1235.8,608.5 1236.8,603.6 1237.8,598.6 1238.8,602.9 1239.9,607.1 1240.9,602.1 1241.9,597.1 1242.9,601.5 1244.0,605.9 1245.0,601.5 1246.0,597.2 1247.0,601.9 1248.1,606.6 1249.1,602.4 1250.1,598.2 1251.1,602.7 1252.2,607.3 1253.2,603.3 1254.2,599.2 1255.2,603.5 1256.3,607.8 1258.3,602.9 1260.4,608.2 1262.4,606.6 1264.5,608.4 1266.5,605.2 1268.6,608.0 1270.6,602.3 1272.7,607.6 1273.7,603.7 1274.7,599.9 1276.8,606.5 1277.8,602.2 1278.8,597.9 1279.8,601.7 1280.9,605.5 1281.9,600.7 1282.9,595.8 1283.9,601.2 1285.0,606.6 1286.0,601.1 1287.0,595.6 1288.0,601.4 1289.1,607.2 1289.7,602.5 1290.4,597.7 1291.1,593.0 1292.1,598.8 1293.2,604.6 1293.8,599.9 1294.5,595.1 1295.2,590.3 1296.2,596.4 1297.3,602.5 1297.9,597.4 1298.6,592.3 1299.3,587.2 1300.0,591.6 1300.7,596.0 1301.4,600.4 1302.0,595.8 1302.7,591.2 1303.4,586.6 1304.1,592.2 1304.8,597.8 1305.5,603.4 1306.1,598.5 1306.8,593.6 1307.5,588.7 1308.0,593.0 1308.5,597.4 1309.1,601.7 1309.6,606.1 1310.6,600.9 1311.6,595.6 1312.6,601.5 1313.7,607.5 1315.7,602.1 1317.8,608.1 1319.8,604.6 1321.9,608.5 1323.9,604.3 1326.0,608.1 1328.0,602.3 1330.1,607.7 1331.1,603.7 1332.1,599.7 1334.2,603.9 1335.2,600.2 1336.2,596.5 1338.3,599.8 1340.3,594.0 1342.4,597.7 1344.4,594.8 1346.5,596.5 1348.5,595.6 1350.6,596.6 1352.6,596.1 1354.7,598.1 1356.7,596.6 1358.8,602.6 1360.8,597.2 1361.8,602.7 1362.9,608.2 1363.9,603.7 1364.9,599.3 1365.9,603.7 1367.0,608.0 1369.0,603.4 1371.1,607.7 1373.1,601.9 1375.2,608.2 1376.2,603.0 1377.2,597.8 1378.2,602.5 1379.3,607.1 1379.9,602.8 1380.6,598.5 1381.3,594.2 1382.3,598.8 1383.4,603.5 1384.0,599.3 1384.7,595.0 1385.4,590.8 1386.1,595.3 1386.8,599.7 1387.5,604.1 1388.1,599.0 1388.8,593.9 1389.5,588.8 1390.0,593.4 1390.5,598.0 1391.1,602.6 1391.6,607.2 1392.1,602.5 1392.6,597.8 1393.1,593.1 1393.6,588.4 1394.1,593.3 1394.6,598.2 1395.2,603.2 1395.7,608.1 1396.3,602.4 1397.0,596.7 1397.7,591.0 1398.2,595.4 1398.7,599.7 1399.3,604.1 1399.8,608.5 1400.3,604.1 1400.8,599.8 1401.3,595.4 1401.8,591.0 1402.5,596.7 1403.2,602.4 1403.9,608.1 1404.4,603.4 1404.9,598.7 1405.4,594.1 1405.9,589.4 1406.4,594.0 1406.9,598.5 1407.5,603.1 1408.0,607.7 1408.5,602.9 1409.0,598.1 1409.5,593.3 1410.0,588.6 1410.5,593.4 1411.0,598.3 1411.6,603.2 1412.1,608.1 1412.6,603.3 1413.1,598.6 1413.6,593.8 1414.1,589.1 1414.6,593.9 1415.1,598.8 1415.7,603.6 1416.2,608.5 1416.7,603.3 1417.2,598.1 1417.7,592.9 1418.2,587.7 1418.7,592.8 1419.2,597.8 1419.8,602.9 1420.3,608.0 1420.7,603.4 1421.1,598.8 1421.5,594.3 1421.9,589.7 1422.3,585.1 1422.7,589.6 1423.1,594.1 1423.5,598.6 1424.0,603.1 1424.4,607.6 1424.9,602.2 1425.4,596.8 1425.9,591.4 1426.4,586.1 1426.9,591.4 1427.4,596.8 1428.0,602.2 1428.5,607.6 1429.0,602.5 1429.5,597.4 1430.0,592.3 1430.5,587.2 1431.0,592.4 1431.5,597.6 1432.1,602.8 1432.6,608.0 1433.0,603.2 1433.4,598.3 1433.8,593.5 1434.2,588.6 1434.6,583.8 1435.0,588.6 1435.4,593.4 1435.8,598.2 1436.3,603.0 1436.7,607.8 1437.1,602.4 1437.5,597.0 1437.9,591.6 1438.3,586.1 1438.7,580.7 1439.1,585.6 1439.5,590.4 1439.9,595.2 1440.4,600.0 1440.8,604.9 1441.2,599.6 1441.6,594.4 1442.0,589.2 1442.4,584.0 1442.8,578.8 1443.3,583.6 1443.8,588.5 1444.4,593.4 1444.9,598.2 1445.4,593.8 1445.9,589.4 1446.4,584.9 1446.9,580.5 1443.0,583.5 1444.2,585.3 1445.5,587.1 1446.7,588.8 1448.0,590.6 1449.2,592.4 1450.8,593.9 1452.3,595.5 1453.8,597.0 1455.4,598.6 1457.2,600.0 1458.9,601.4 1460.7,602.8 1462.5,604.2 1464.2,605.7 1466.5,606.1 1468.7,606.5 1470.9,607.0 1473.1,607.4 1476.3,604.8 1476.7,602.7 1477.1,600.6 1477.5,598.6 1477.9,596.5 1478.3,594.5 1478.8,592.4 1479.1,590.4 1479.4,588.3 1479.7,586.3 1480.1,584.3 1480.4,582.3 1480.7,580.3 1481.1,578.2 1483.7,569.4 1484.5,567.3 1485.2,565.3 1485.9,563.2 1486.7,561.1 1487.4,559.1 1488.1,557.0 1490.8,549.9 1491.8,548.1 1492.9,546.4 1493.9,544.6 1494.9,542.8 1496.0,541.1 1497.0,539.3 1497.2,537.1 1497.4,534.9 1497.7,532.7 1497.9,530.4 1500.0,521.6 1500.5,519.6 1500.9,517.5 1501.4,515.5 1501.8,513.5 1502.3,511.5 1502.7,509.5 1503.2,507.4 1503.8,505.7 1504.4,503.9 1505.0,502.1 1508.5,493.3 1509.6,491.5 1510.7,489.7 1511.8,488.0 1512.9,486.2 1513.5,483.8 1514.1,481.5 1514.7,479.1 1516.5,472.0 1516.6,470.0 1516.8,467.9 1516.9,465.8 1517.1,463.8 1517.2,461.7 1517.3,459.6 1518.5,457.9 1519.6,456.1 1520.7,454.3 1521.8,452.6 1524.1,399.5 1524.2,397.3 1524.2,395.0 1524.3,392.8 1524.4,390.6 1524.5,388.5 1524.6,386.4 1524.7,384.2 1524.8,382.1 1526.4,383.7 1528.0,385.3 1528.8,387.0 1529.7,388.6 1530.6,390.3 1530.8,392.7 1531.0,395.2 1531.2,397.7 1531.2,569.4 1534.2,570.3 1531.2,571.0 1531.3,573.2 1531.4,575.4 1531.4,577.6 1531.5,579.8 1531.6,582.0 1531.9,584.1 1532.2,586.2 1532.6,588.3 1532.9,590.4 1533.2,592.6 1533.5,594.7 1533.9,596.8 1534.2,598.9 1534.5,601.0 1533.2,570.2 1533.5,575.1 1533.7,579.9 1534.0,584.7 1534.3,589.5 1534.6,594.4 1534.9,599.2 1535.2,604.0 1535.5,598.8 1535.9,593.6 1536.2,588.4 1536.6,583.2 1536.9,578.0 1537.3,572.8 1537.6,577.9 1537.9,583.1 1538.3,588.2 1538.6,593.4 1539.0,598.5 1539.3,603.7 1539.6,598.8 1540.0,593.9 1540.3,589.0 1540.7,584.1 1541.0,579.2 1541.4,574.3 1541.8,579.4 1542.2,584.4 1542.6,589.5 1543.0,594.5 1543.4,599.6 1543.8,594.7 1544.2,589.8 1544.6,584.9 1545.0,580.0 1545.5,575.2 1546.0,580.2 1546.5,585.3 1547.0,590.4 1547.5,595.5 1548.0,590.6 1548.5,585.8 1549.0,581.0 1549.6,576.1 1550.1,581.7 1550.6,587.3 1551.1,592.9 1551.6,598.5 1552.1,593.2 1552.6,587.9 1553.1,582.7 1553.7,577.4 1554.1,582.4 1554.5,587.5 1554.9,592.5 1555.3,597.6 1555.7,602.6 1556.1,598.0 1556.5,593.4 1556.9,588.7 1557.3,584.1 1557.8,579.5 1558.2,584.7 1558.6,590.0 1559.0,595.2 1559.4,600.5 1559.8,605.7 1560.3,600.8 1560.8,595.9 1561.3,591.0 1561.9,586.1 1562.4,591.7 1562.9,597.2 1563.4,602.7 1563.9,608.3 1564.4,603.8 1564.9,599.3 1565.4,594.9 1566.0,590.4 1566.6,596.0 1567.3,601.6 1568.0,607.2 1568.7,601.7 1569.4,596.3 1570.1,590.9 1570.7,595.9 1571.4,600.9 1572.1,605.9 1572.8,601.2 1573.5,596.5 1574.2,591.7 1574.8,596.8 1575.5,601.9 1576.2,607.0 1576.9,602.2 1577.6,597.5 1578.3,592.8 1578.9,597.8 1579.6,602.9 1580.3,608.0 1581.0,603.3 1581.7,598.5 1582.4,593.8 1583.0,598.1 1583.7,602.5 1584.4,606.8 1584.8,602.4 1585.2,597.9 1585.6,593.4 1586.0,588.9 1586.5,584.4 1587.0,589.1 1587.5,593.8 1588.0,598.5 1588.5,603.3 1588.9,597.9 1589.3,592.5 1589.7,587.1 1590.1,581.7 1590.6,576.3 1591.0,581.0 1591.4,585.8 1591.8,590.6 1592.2,595.4 1592.6,600.2 1593.0,595.1 1593.4,590.0 1593.8,584.8 1594.2,579.7 1594.7,574.6 1595.1,579.2 1595.5,583.7 1595.9,588.2 1596.3,592.8 1596.7,597.3 1597.1,592.4 1597.5,587.6 1597.9,582.7 1598.3,577.8 1598.8,573.0 1599.2,577.5 1599.6,582.0 1600.0,586.6 1600.4,591.1 1600.8,595.6 1601.3,591.2 1601.8,586.7 1602.3,582.3 1602.9,577.8 1603.4,582.2 1603.9,586.5 1604.4,590.9 1604.9,595.2 1605.6,591.1 1606.3,586.9 1607.0,582.7 1608.0,588.6 1609.0,594.4 1610.0,588.8 1611.1,583.2 1612.1,587.9 1613.1,592.7 1614.1,587.5 1615.2,582.3 1616.2,586.6 1617.2,590.9 1618.2,586.2 1619.3,581.4 1620.3,585.7 1621.3,589.9 1623.4,583.4 1624.4,587.9 1625.4,592.4 1627.5,586.6 1628.5,590.7 1629.5,594.9 1631.6,589.0 1633.6,594.5 1635.7,590.2 1637.7,594.1 1639.8,591.0 1641.8,594.4 1643.9,590.8 1645.9,594.9 1648.0,590.5 1650.0,595.4 1652.1,590.3 1654.1,595.7 1656.2,589.9 1658.2,595.3 1660.3,589.5 1662.3,594.9 1664.4,589.1 1666.4,594.5 1668.5,588.7 1670.5,594.1 1672.6,588.2 1674.6,593.4 1676.7,587.7 1678.7,592.6 1680.8,587.2 1682.8,591.7 1684.9,586.8 1686.9,590.9 1689.0,586.3 1691.0,590.2 1693.1,586.0 1695.1,589.8 1697.2,585.7 1699.2,589.4 1701.3,585.5 1703.3,589.0 1705.4,585.2 1707.4,588.6 1709.5,585.0 1711.5,588.3 1713.6,584.9 1715.6,587.9 1717.7,584.8 1719.7,587.8 1721.8,585.0 1723.8,588.3 1725.9,585.3 1727.9,588.8 1730.0,585.6 1732.0,589.1 1734.1,585.8 1736.1,588.9 1738.2,586.0 1740.2,588.7 1742.3,586.1" fill="none" stroke="#ff0000" stroke-width="5.0" stroke-linejoin="round" stroke-linecap="round" marker-start="url(#mr)" marker-mid="url(#mr)" marker-end="url(#mr)"/>
<polyline points="1436.0,1340.0 1436.2,1342.2 1436.4,1344.4 1436.6,1346.6 1436.9,1348.9 1437.1,1351.1 1437.3,1353.3 1437.5,1355.5 1437.7,1357.7 1437.9,1359.9 1438.1,1362.1 1438.4,1364.4 1438.6,1366.6 1438.8,1368.8 1439.0,1371.0 1441.0,1370.5 1443.0,1370.0 1444.2,1368.0 1445.3,1366.0 1446.5,1364.0 1447.6,1275.0 1447.8,1272.7 1448.0,1270.3 1448.2,1268.0 1448.3,1265.7 1448.5,1263.4 1448.7,1261.0 1448.9,1258.7 1449.1,1261.0 1449.3,1263.4 1449.5,1265.7 1449.6,1268.0 1449.8,1270.3 1450.0,1272.7 1450.2,1275.0 1450.5,1328.0 1466.0,1330.0 1466.6,1332.2 1467.2,1334.4 1467.8,1336.6 1468.4,1338.8 1469.0,1341.0 1469.6,1343.2 1470.2,1345.4 1470.8,1347.6 1471.4,1349.8 1472.0,1352.0 1472.6,1354.1 1473.3,1356.2 1473.9,1358.2 1474.6,1360.3 1475.2,1362.4 1475.7,1360.3 1476.1,1358.3 1476.6,1356.2 1477.1,1354.1 1477.5,1352.1 1478.0,1350.0 1484.0,1322.0 1484.8,1324.0 1485.5,1326.0 1486.2,1328.0 1487.0,1330.0 1487.8,1332.0 1488.6,1334.0 1489.4,1336.0 1490.2,1338.0 1491.0,1340.0 1489.5,1187.0 1489.6,1184.8 1489.7,1182.7 1489.9,1180.5 1490.0,1178.3 1490.1,1176.2 1490.2,1174.0 1490.4,1171.8 1490.5,1169.7 1490.6,1167.5 1498.8,1137.0 1499.1,1134.8 1499.3,1132.7 1499.6,1130.5 1499.9,1128.3 1500.1,1126.2 1500.4,1124.0 1500.7,1121.8 1501.0,1119.6 1501.2,1117.5 1501.5,1115.3 1501.8,1113.1 1502.0,1111.0 1502.3,1108.8 1505.3,1043.3 1505.5,1041.0 1505.6,1038.8 1505.8,1036.5 1506.0,1034.3 1506.1,1032.0 1506.3,1029.8 1506.4,1027.5 1506.6,1025.3 1506.8,1023.0 1506.9,1020.7 1507.1,1018.5 1507.4,1016.3 1507.7,1014.1 1508.0,1011.9 1508.3,1009.8 1508.6,1007.6 1508.8,1005.4 1509.1,1003.2 1509.4,1001.0 1509.7,998.8 1510.0,996.7 1510.3,994.5 1510.6,992.3 1511.7,990.5 1512.7,988.6 1513.8,986.8 1514.9,984.9 1515.9,983.1 1516.5,981.1 1517.1,979.0 1517.6,977.0 1518.2,975.0 1518.7,972.9 1519.3,970.9 1519.9,968.8 1520.4,966.8 1521.0,964.8 1521.5,962.7 1522.1,960.7 1522.7,958.7 1524.4,1029.1 1534.3,1057.8 1534.5,1059.8 1534.6,1061.9 1534.8,1063.9 1534.9,1066.0 1535.0,1068.1 1534.8,1070.4 1534.6,1072.8 1534.3,1075.1 1534.1,1077.5 1533.9,1079.9 1533.6,1082.2 1533.6,1108.0 1533.8,1110.2 1534.0,1112.4 1534.1,1114.5 1534.3,1116.7 1534.5,1118.9 1534.7,1121.1 1534.8,1123.2 1535.0,1125.4 1535.2,1127.6 1535.4,1129.8 1535.5,1131.9 1535.7,1134.1 1535.9,1136.3 1536.1,1138.5 1536.2,1140.6 1536.4,1142.8 1536.6,1145.0 1536.8,1147.2 1536.9,1149.5 1537.0,1151.8 1537.2,1154.0 1537.3,1156.2 1537.5,1158.5 1537.6,1160.8 1537.8,1163.0 1537.9,1165.2 1538.1,1167.5 1538.2,1169.8 1538.4,1172.0 1538.5,1174.2 1538.7,1176.5 1538.8,1178.8 1539.0,1181.0 1539.1,1183.2 1539.3,1185.5 1539.4,1187.8 1539.6,1190.0 1539.8,1192.2 1539.9,1194.3 1540.1,1196.5 1540.3,1198.7 1540.5,1200.9 1540.6,1203.0 1540.8,1205.2 1541.0,1207.4 1541.2,1209.6 1541.3,1211.7 1541.5,1213.9 1541.7,1216.1 1541.9,1218.3 1542.0,1220.4 1542.2,1222.6 1542.4,1224.8 1542.6,1227.0 1542.7,1229.1 1542.9,1231.3 1543.1,1233.5 1543.3,1235.7 1543.4,1237.8 1543.6,1240.0 1543.8,1242.2 1543.9,1244.3 1544.1,1246.5 1544.2,1248.7 1544.4,1250.8 1544.5,1253.0 1544.7,1255.2 1544.8,1257.3 1545.0,1259.5 1545.1,1261.7 1545.3,1263.8 1545.4,1266.0 1545.6,1268.2 1545.8,1270.3 1545.9,1272.5 1546.1,1274.7 1546.2,1276.8 1546.4,1279.0 1546.5,1281.2 1546.7,1283.3 1546.8,1285.5 1547.0,1287.7 1547.1,1289.8 1547.3,1292.0 1547.0,1300.0 1547.2,1302.1 1547.4,1304.3 1547.6,1306.4 1547.8,1308.6 1548.0,1310.7 1548.2,1312.9 1548.5,1315.0 1548.7,1317.1 1548.9,1319.3 1549.1,1321.4 1549.3,1323.6 1549.5,1325.7 1549.7,1327.9 1549.9,1330.0 1550.1,1332.2 1550.3,1334.4 1550.4,1336.7 1550.6,1338.9 1550.8,1341.1 1551.0,1343.3 1551.1,1345.6 1551.3,1347.8 1551.5,1350.0" fill="none" stroke="#0000ff" stroke-width="5.0" stroke-linejoin="round" stroke-linecap="round" marker-start="url(#mb)" marker-mid="url(#mb)" marker-end="url(#mb)"/>
<polyline points="1436.0,1340.0 1436.2,1342.2 1436.5,1344.5 1436.8,1346.8 1437.0,1349.0 1437.2,1351.2 1437.5,1353.5 1437.8,1355.8 1438.0,1358.0 1438.2,1360.2 1438.5,1362.5 1438.8,1364.8 1439.0,1367.0 1440.8,1365.8 1442.5,1364.5 1444.2,1363.2 1446.0,1362.0 1447.6,1280.0 1447.8,1277.8 1448.0,1275.5 1448.2,1273.3 1448.3,1271.0 1448.5,1268.8 1448.7,1266.5 1448.9,1264.3 1449.1,1266.5 1449.3,1268.8 1449.5,1271.0 1449.6,1273.3 1449.8,1275.5 1450.0,1277.8 1450.2,1280.0 1450.5,1330.0 1464.0,1330.0 1466.0,1331.2 1468.0,1332.5 1470.0,1333.8 1472.0,1335.0 1473.8,1333.5 1475.6,1332.0 1477.4,1330.5 1479.2,1329.0 1478.5,1331.0 1477.7,1333.0 1477.0,1335.0 1476.2,1337.0 1475.2,1339.0 1474.2,1341.1 1473.1,1343.2 1472.1,1345.2 1473.9,1346.4 1475.8,1347.6 1477.6,1348.9 1479.5,1350.1 1481.3,1351.3 1483.3,1352.5 1485.3,1353.8 1487.4,1355.0 1489.4,1356.3 1490.4,1358.8 1491.4,1361.4 1490.4,1363.2 1489.4,1365.1 1488.3,1367.0 1487.3,1368.8 1486.3,1370.7 1485.3,1372.5 1496.5,1291.6 1497.5,1289.9 1498.5,1288.2 1499.5,1286.5 1499.0,1284.4 1498.5,1282.3 1498.0,1280.2 1497.5,1278.1 1497.0,1276.0 1502.0,1222.0 1502.2,1219.9 1502.4,1217.7 1502.7,1215.6 1502.9,1213.5 1503.1,1211.3 1503.3,1209.2 1503.5,1207.1 1503.8,1204.9 1504.0,1202.8 1504.2,1200.7 1504.4,1198.5 1504.6,1196.4 1504.9,1194.3 1505.1,1192.1 1505.3,1190.0 1507.6,1118.0 1507.8,1115.8 1508.0,1113.6 1508.2,1111.4 1508.4,1109.2 1508.6,1107.0 1508.8,1104.7 1509.0,1102.5 1509.2,1100.3 1509.4,1098.1 1509.6,1095.9 1509.8,1093.7 1510.0,1091.5 1510.3,1089.3 1510.5,1087.1 1510.7,1084.9 1510.9,1082.7 1511.2,1080.4 1515.9,1027.7 1516.3,1025.5 1516.6,1023.3 1517.0,1021.1 1517.3,1018.9 1517.7,1016.7 1518.1,1014.5 1518.4,1012.3 1518.8,1010.1 1519.1,1007.9 1519.6,1005.7 1520.0,1003.5 1520.4,1001.4 1520.9,999.2 1521.3,997.0 1521.8,994.9 1522.2,992.7 1522.7,990.5 1526.2,1089.3 1526.3,1087.1 1526.5,1084.9 1526.6,1082.7 1526.7,1080.4 1526.9,1078.2 1527.0,1076.0 1527.1,1073.8 1527.3,1071.6 1527.4,1069.4 1527.5,1067.2 1527.7,1065.0 1527.8,1062.7 1527.9,1060.5 1528.1,1058.3 1528.2,1056.1 1528.3,1053.9 1528.5,1051.8 1528.7,1049.6 1528.8,1047.5 1529.0,1045.3 1529.2,1043.2 1529.4,1041.0 1529.6,1038.9 1529.7,1036.7 1529.9,1034.6 1530.1,1032.5 1530.3,1030.3 1530.4,1028.2 1530.6,1026.0 1530.8,1023.9 1531.0,1021.7 1531.2,1019.6 1531.3,1017.5 1531.5,1015.3 1533.3,1053.9 1533.3,1056.1 1533.3,1058.3 1533.3,1060.5 1533.3,1062.7 1533.3,1064.9 1533.3,1067.1 1533.2,1069.3 1533.2,1071.5 1533.2,1073.7 1533.2,1075.8 1533.2,1078.0 1533.2,1080.2 1533.2,1082.4 1533.2,1084.6 1533.2,1086.8 1533.2,1089.0 1533.2,1091.2 1533.2,1093.4 1533.2,1095.6 1533.2,1097.8 1533.2,1100.0 1533.3,1102.1 1533.5,1104.3 1533.6,1106.4 1533.8,1108.6 1533.9,1110.7 1534.1,1112.9 1534.2,1115.0 1534.4,1117.1 1534.5,1119.3 1534.7,1121.4 1534.8,1123.6 1535.0,1125.7 1535.1,1127.9 1535.3,1130.0 1535.4,1132.1 1535.6,1134.3 1535.7,1136.4 1535.9,1138.6 1536.0,1140.7 1536.2,1142.9 1536.3,1145.0 1536.5,1147.2 1536.6,1149.5 1536.8,1151.7 1536.9,1153.9 1537.0,1156.2 1537.2,1158.4 1537.3,1160.6 1537.5,1162.9 1537.6,1165.1 1537.8,1167.3 1538.0,1169.6 1538.1,1171.8 1538.2,1174.1 1538.4,1176.3 1538.5,1178.5 1538.7,1180.8 1538.8,1183.0 1539.0,1185.2 1539.1,1187.5 1539.3,1189.7 1539.5,1191.9 1539.6,1194.1 1539.8,1196.3 1540.0,1198.4 1540.2,1200.6 1540.3,1202.8 1540.5,1205.0 1540.7,1207.2 1540.9,1209.4 1541.0,1211.6 1541.2,1213.8 1541.4,1215.9 1541.6,1218.1 1541.7,1220.3 1541.9,1222.5 1542.1,1224.7 1542.3,1226.9 1542.4,1229.1 1542.6,1231.3 1542.8,1233.4 1543.0,1235.6 1543.1,1237.8 1543.3,1240.0 1543.5,1242.2 1543.6,1244.3 1543.8,1246.5 1543.9,1248.6 1544.1,1250.8 1544.2,1252.9 1544.4,1255.0 1544.6,1257.2 1544.7,1259.3 1544.9,1261.5 1545.0,1263.6 1545.2,1265.8 1545.4,1268.0 1545.5,1270.1 1545.7,1272.2 1545.8,1274.4 1546.0,1276.5 1546.1,1278.7 1546.3,1280.8 1546.5,1283.0 1546.6,1285.1 1546.8,1287.3 1546.9,1289.4 1547.1,1291.6 1544.5,1296.0 1544.7,1298.2 1544.9,1300.5 1545.1,1302.7 1545.3,1304.9 1545.5,1307.2 1545.7,1309.4 1545.8,1311.6 1546.0,1313.8 1546.2,1316.1 1546.4,1318.3 1546.6,1320.5 1546.8,1322.8 1547.0,1325.0 1547.3,1327.3 1547.5,1329.5 1547.8,1331.8 1548.1,1334.1 1548.4,1336.4 1548.6,1338.6 1548.9,1340.9 1549.2,1343.2 1549.5,1345.5 1549.7,1347.7 1550.0,1350.0 1550.5,1352.2 1551.1,1354.4 1551.6,1356.5 1552.2,1358.7 1552.7,1360.9 1553.3,1363.1 1553.8,1365.3 1554.4,1367.5 1554.9,1369.6 1555.5,1371.8 1556.0,1374.0 1558.2,1373.9 1560.5,1373.9 1562.7,1373.8 1564.9,1373.8 1567.1,1373.7 1569.4,1373.7 1571.6,1373.6 1626.0,1338.5 1627.9,1337.8 1629.9,1337.2 1631.8,1336.5 1633.9,1337.2 1635.9,1337.8 1638.0,1338.5" fill="none" stroke="#00ff00" stroke-width="5.0" stroke-linejoin="round" stroke-linecap="round" marker-start="url(#mg)" marker-mid="url(#mg)" marker-end="url(#mg)"/>
<polyline points="171.8,1368.7 173.9,1370.9 175.9,1364.6 176.9,1368.8 178.0,1372.9 179.0,1366.8 180.0,1360.6 181.0,1366.3 182.1,1372.0 182.7,1367.0 183.4,1362.0 184.1,1357.0 184.8,1361.3 185.5,1365.6 186.2,1369.9 186.8,1365.4 187.5,1360.9 188.2,1356.4 188.9,1361.4 189.6,1366.4 190.3,1371.4 191.3,1365.4 192.3,1359.3 193.0,1363.9 193.7,1368.5 194.4,1373.0 195.0,1368.9 195.7,1364.8 196.4,1360.7 197.4,1366.7 198.5,1372.8 199.1,1367.7 199.8,1362.6 200.5,1357.5 201.2,1362.3 201.9,1367.1 202.6,1371.9 203.2,1366.6 203.9,1361.3 204.6,1356.1 205.3,1361.4 206.0,1366.7 206.7,1372.0 207.7,1365.8 208.7,1359.7 209.4,1363.9 210.1,1368.2 210.8,1372.4 211.8,1367.3 212.8,1362.2 213.8,1367.6 214.9,1372.9 215.9,1367.3 216.9,1361.7 217.9,1367.6 219.0,1373.5 220.0,1368.0 221.0,1362.5 222.0,1368.0 223.1,1373.5 224.1,1369.0 225.1,1364.5 226.1,1369.0 227.2,1373.5 228.2,1368.9 229.2,1364.4 230.2,1368.9 231.3,1373.5 231.9,1368.7 232.6,1363.9 233.3,1359.1 234.0,1363.9 234.7,1368.7 235.4,1373.5 235.9,1368.6 236.4,1363.7 236.9,1358.8 237.4,1354.0 237.9,1358.4 238.4,1362.8 239.0,1367.2 239.5,1371.7 240.0,1366.5 240.5,1361.3 241.0,1356.1 241.5,1350.9 242.0,1355.3 242.5,1359.7 243.1,1364.2 243.6,1368.6 244.1,1363.1 244.6,1357.7 245.1,1352.2 245.6,1346.8 246.1,1351.5 246.6,1356.3 247.2,1361.0 247.7,1365.8 248.1,1360.7 248.5,1355.6 248.9,1350.6 249.3,1345.5 249.7,1340.4 250.1,1344.9 250.5,1349.5 250.9,1354.0 251.4,1358.5 251.8,1363.1 252.2,1358.0 252.6,1353.0 253.0,1348.0 253.4,1343.0 253.8,1337.9 254.2,1343.2 254.6,1348.6 255.0,1353.9 255.5,1359.2 255.9,1364.5 256.4,1359.3 256.9,1354.1 257.4,1349.0 257.9,1343.8 258.3,1348.4 258.7,1353.1 259.1,1357.7 259.6,1362.3 260.0,1366.9 260.6,1362.1 261.3,1357.3 262.0,1352.5 262.7,1358.2 263.4,1364.0 264.1,1369.7 264.7,1365.4 265.4,1361.1 266.1,1356.8 266.8,1361.9 267.5,1367.0 268.2,1372.0 268.7,1367.6 269.2,1363.2 269.7,1358.8 270.2,1354.4 270.7,1359.0 271.2,1363.5 271.8,1368.0 272.3,1372.5 272.8,1367.4 273.3,1362.3 273.8,1357.2 274.3,1352.1 274.8,1356.6 275.3,1361.1 275.9,1365.7 276.4,1370.2 276.9,1365.1 277.4,1360.1 277.9,1355.0 278.4,1350.0 279.1,1355.7 279.8,1361.4 280.5,1367.0 281.0,1362.4 281.5,1357.7 282.0,1353.0 282.5,1348.4 283.2,1353.5 283.9,1358.6 284.6,1363.8 285.2,1358.1 285.9,1352.4 286.6,1346.8 287.3,1351.7 288.0,1356.6 288.7,1361.5 289.3,1356.2 290.0,1350.9 290.7,1345.5 291.4,1350.3 292.1,1355.1 292.8,1359.9 293.4,1354.7 294.1,1349.5 294.8,1344.3 295.5,1349.5 296.2,1354.7 296.9,1359.8 297.4,1354.4 297.9,1348.9 298.4,1343.5 298.9,1338.1 299.3,1342.8 299.7,1347.6 300.1,1352.3 300.6,1357.1 301.0,1361.9 301.3,1356.9 301.6,1351.9 302.0,1346.9 302.3,1341.9 302.7,1336.9 303.0,1331.9 303.4,1336.5 303.7,1341.1 304.0,1345.7 304.4,1350.3 304.7,1354.9 305.1,1359.5 305.4,1354.3 305.7,1349.1 306.1,1343.9 306.4,1338.8 306.8,1333.6 307.1,1328.4 307.5,1333.8 307.9,1339.3 308.3,1344.7 308.8,1350.1 309.2,1355.6 309.6,1350.6 310.0,1345.6 310.4,1340.6 310.8,1335.6 311.2,1330.6 311.6,1336.0 312.0,1341.5 312.4,1347.0 312.9,1352.4 313.3,1357.9 313.8,1352.4 314.3,1346.9 314.8,1341.4 315.3,1335.9 315.7,1340.8 316.1,1345.7 316.5,1350.6 317.0,1355.6 317.4,1360.5 317.8,1355.0 318.2,1349.6 318.6,1344.1 319.0,1338.6 319.4,1333.2 319.8,1338.0 320.1,1342.8 320.4,1347.6 320.8,1352.4 321.1,1357.2 321.5,1362.0 321.8,1356.7 322.1,1351.4 322.5,1346.2 322.8,1340.9 323.2,1335.6 323.5,1330.3 323.9,1335.2 324.2,1340.1 324.5,1345.0 324.9,1349.9 325.2,1354.8 325.6,1359.7 325.9,1354.5 326.2,1349.3 326.6,1344.1 326.9,1338.9 327.3,1333.7 327.6,1328.4 328.0,1333.6 328.4,1338.7 328.8,1343.9 329.3,1349.0 329.7,1354.1 330.1,1349.6 330.5,1345.0 330.9,1340.5 331.3,1335.9 331.7,1331.4 332.2,1335.8 332.7,1340.1 333.3,1344.5 333.8,1348.9 334.3,1344.3 334.8,1339.6 335.3,1335.0 335.8,1330.3 336.2,1335.3 336.6,1340.2 337.0,1345.2 337.5,1350.1 337.9,1355.1 338.2,1350.4 338.5,1345.7 338.9,1341.1 339.2,1336.4 339.6,1331.7 339.9,1327.1 340.3,1332.2 340.6,1337.4 340.9,1342.6 341.3,1347.7 341.6,1352.9 342.0,1358.1 342.3,1353.3 342.5,1348.6 342.8,1343.8 343.1,1339.1 343.4,1334.3 343.7,1329.6 344.0,1324.8 344.4,1330.0 344.7,1335.1 345.0,1340.3 345.4,1345.4 345.7,1350.6 346.1,1355.7 346.4,1350.5 346.6,1345.3 346.9,1340.1 347.2,1334.8 347.5,1329.6 347.8,1324.4 348.1,1319.2 348.5,1324.1 348.8,1329.0 349.1,1333.9 349.5,1338.8 349.8,1343.7 350.2,1348.6 350.4,1343.5 350.6,1338.5 350.8,1333.4 351.1,1328.3 351.3,1323.3 351.5,1318.2 351.8,1313.1 352.0,1308.1 352.2,1303.0 352.5,1308.3 352.8,1313.7 353.1,1319.0 353.4,1324.4 353.7,1329.7 354.0,1335.1 354.3,1340.4 354.4,1335.3 354.6,1330.2 354.8,1325.0 354.9,1319.9 355.1,1314.8 355.3,1309.7 355.5,1304.5 355.6,1299.4 355.8,1294.3 356.0,1289.2 356.1,1284.1 356.3,1278.9 356.5,1283.9 356.7,1288.9 356.9,1293.9 357.1,1298.9 357.2,1303.9 357.4,1308.9 357.6,1313.9 357.8,1318.9 358.0,1323.9 358.2,1328.9 358.4,1333.9 358.8,1328.9 359.2,1323.9 359.6,1318.9 360.0,1313.9 360.4,1308.9 360.8,1313.9 361.1,1318.9 361.4,1323.9 361.8,1328.8 362.1,1333.8 362.5,1338.8 363.0,1334.2 363.5,1329.6 364.0,1325.1 364.5,1320.5 364.9,1325.6 365.3,1330.7 365.7,1335.8 366.2,1340.8 366.6,1345.9 367.1,1340.7 367.6,1335.5 368.1,1330.3 368.6,1325.1 369.0,1330.4 369.3,1335.8 369.6,1341.2 370.0,1346.5 370.3,1351.9 370.7,1357.2 371.1,1351.8 371.5,1346.3 371.9,1340.9 372.3,1335.4 372.7,1329.9 373.0,1335.0 373.3,1340.0 373.6,1345.0 373.9,1350.0 374.2,1355.0 374.5,1360.0 374.8,1365.0 375.1,1360.3 375.4,1355.6 375.8,1350.9 376.1,1346.2 376.5,1341.5 376.8,1336.8 377.1,1341.8 377.4,1346.8 377.7,1351.8 378.0,1356.8 378.3,1361.7 378.6,1366.7 378.9,1371.7 379.3,1366.9 379.7,1362.0 380.1,1357.1 380.5,1352.3 380.9,1347.4 381.3,1352.5 381.7,1357.6 382.1,1362.6 382.6,1367.7 383.0,1372.7 384.0,1366.8 385.0,1360.8 385.7,1365.0 386.4,1369.2 387.1,1373.5 388.1,1367.5 389.1,1361.6 390.1,1367.5 391.2,1373.5 391.8,1368.7 392.5,1364.0 393.2,1359.3 393.9,1363.6 394.6,1368.0 395.3,1372.3 395.8,1367.0 396.3,1361.7 396.8,1356.4 397.3,1351.1 397.8,1355.9 398.3,1360.7 398.9,1365.5 399.4,1370.3 399.8,1365.1 400.2,1359.9 400.6,1354.7 401.0,1349.6 401.4,1344.4 401.8,1349.1 402.2,1353.7 402.6,1358.4 403.1,1363.0 403.5,1367.7 403.9,1362.5 404.3,1357.3 404.7,1352.1 405.1,1346.9 405.5,1341.7 405.9,1346.4 406.3,1351.2 406.7,1356.0 407.2,1360.8 407.6,1365.6 408.1,1360.1 408.6,1354.5 409.1,1349.0 409.6,1343.4 410.1,1348.8 410.6,1354.2 411.2,1359.5 411.7,1364.9 412.3,1360.0 413.0,1355.1 413.7,1350.3 414.2,1354.9 414.7,1359.6 415.3,1364.3 415.8,1369.0 416.8,1364.5 417.8,1360.0 418.8,1365.9 419.9,1371.9 420.9,1366.1 421.9,1360.3 422.9,1366.4 424.0,1372.6 424.6,1368.0 425.3,1363.5 426.0,1358.9 426.7,1363.7 427.4,1368.5 428.1,1373.2 428.7,1368.2 429.4,1363.2 430.1,1358.1 430.8,1362.7 431.5,1367.2 432.2,1371.7 433.2,1365.8 434.2,1359.8 435.2,1364.5 436.3,1369.3 437.3,1365.4 438.3,1361.4 439.3,1365.3 440.4,1369.2 441.4,1364.1 442.4,1359.0 443.1,1363.2 443.8,1367.5 444.5,1371.7 445.1,1366.6 445.8,1361.6 446.5,1356.6 447.2,1362.0 447.9,1367.4 448.6,1372.8 449.1,1368.1 449.6,1363.4 450.1,1358.8 450.6,1354.1 451.3,1359.5 452.0,1364.9 452.7,1370.3 453.2,1365.7 453.7,1361.0 454.2,1356.3 454.7,1351.6 455.4,1357.2 456.1,1362.7 456.8,1368.2 457.4,1362.6 458.1,1357.1 458.8,1351.5 459.3,1356.3 459.8,1361.1 460.4,1365.8 460.9,1370.6 461.4,1366.3 461.9,1361.9 462.4,1357.5 462.9,1353.1 463.4,1358.1 463.9,1363.1 464.5,1368.1 465.0,1373.1 465.5,1368.2 466.0,1363.3 466.5,1358.4 467.0,1353.5 467.7,1359.0 468.4,1364.5 469.1,1370.0 469.6,1365.3 470.1,1360.7 470.6,1356.1 471.1,1351.4 471.8,1356.3 472.5,1361.2 473.2,1366.1 473.8,1361.4 474.5,1356.7 475.2,1352.0 475.9,1356.1 476.6,1360.3 477.3,1364.4 478.3,1359.4 479.3,1354.5 480.3,1358.6 481.4,1362.8 483.4,1356.1 484.4,1360.5 485.5,1365.0 486.5,1360.7 487.5,1356.5 488.5,1362.1 489.6,1367.7 490.6,1362.3 491.6,1356.8 492.3,1361.3 493.0,1365.8 493.7,1370.3 494.7,1364.1 495.7,1358.0 496.4,1362.8 497.1,1367.6 497.8,1372.3 498.4,1368.1 499.1,1363.8 499.8,1359.6 500.5,1363.7 501.2,1367.9 501.9,1372.1 502.5,1366.6 503.2,1361.2 503.9,1355.7 504.6,1360.1 505.3,1364.6 506.0,1369.0 506.6,1363.4 507.3,1357.8 508.0,1352.2 508.7,1357.2 509.4,1362.3 510.1,1367.3 510.7,1361.9 511.4,1356.6 512.1,1351.2 512.8,1356.2 513.5,1361.2 514.2,1366.3 514.8,1361.3 515.5,1356.4 516.2,1351.4 516.9,1355.9 517.6,1360.3 518.3,1364.7 519.3,1359.1 520.3,1353.5 521.3,1358.3 522.4,1363.1 523.4,1359.2 524.4,1355.4 525.4,1359.7 526.5,1364.0 528.5,1357.0 529.5,1361.5 530.6,1366.1 531.6,1360.2 532.6,1354.3 533.6,1359.8 534.7,1365.4 535.2,1360.6 535.7,1355.7 536.2,1350.9 536.7,1346.1 537.2,1350.7 537.7,1355.3 538.3,1360.0 538.8,1364.6 539.2,1359.5 539.6,1354.4 540.0,1349.3 540.4,1344.2 540.8,1339.1 541.3,1344.4 541.8,1349.8 542.4,1355.1 542.9,1360.4 543.3,1355.6 543.7,1350.8 544.1,1346.0 544.5,1341.2 544.9,1336.3 545.4,1341.0 545.9,1345.7 546.5,1350.3 547.0,1355.0 547.5,1350.1 548.0,1345.3 548.5,1340.5 549.0,1335.6 549.4,1340.9 549.8,1346.2 550.2,1351.5 550.7,1356.8 551.1,1362.1 551.6,1357.0 552.1,1351.8 552.6,1346.6 553.1,1341.5 553.5,1346.5 553.8,1351.6 554.1,1356.7 554.5,1361.7 554.8,1366.8 555.2,1371.8 555.6,1367.0 556.0,1362.3 556.4,1357.5 556.8,1352.7 557.2,1347.9 557.6,1352.9 558.0,1357.9 558.4,1362.9 558.9,1367.9 559.3,1372.9 559.8,1368.3 560.3,1363.7 560.8,1359.1 561.3,1354.6 561.8,1359.1 562.3,1363.6 562.9,1368.2 563.4,1372.7 563.9,1368.0 564.4,1363.3 564.9,1358.6 565.4,1353.9 566.1,1359.5 566.8,1365.2 567.5,1370.9 568.0,1366.3 568.5,1361.7 569.0,1357.1 569.5,1352.5 570.0,1357.0 570.5,1361.5 571.1,1366.1 571.6,1370.6 572.2,1365.1 572.9,1359.6 573.6,1354.1 574.1,1358.7 574.6,1363.3 575.2,1367.8 575.7,1372.4 576.3,1366.9 577.0,1361.4 577.7,1355.9 578.4,1361.2 579.1,1366.4 579.8,1371.7 580.3,1367.3 580.8,1362.9 581.3,1358.5 581.8,1354.1 582.5,1358.6 583.2,1363.1 583.9,1367.6 584.5,1362.4 585.2,1357.2 585.9,1352.0 586.9,1358.0 588.0,1364.0 589.0,1357.8 590.0,1351.7 591.0,1357.0 592.1,1362.2 593.1,1357.1 594.1,1352.0 595.1,1356.2 596.2,1360.5 597.2,1356.4 598.2,1352.3 600.3,1359.1 602.3,1353.2 604.4,1359.9 606.4,1354.4 608.5,1360.7 610.5,1355.7 611.5,1359.7 612.6,1363.6 614.6,1357.3 615.6,1361.8 616.7,1366.4 617.7,1360.4 618.7,1354.5 619.4,1358.8 620.1,1363.1 620.8,1367.4 621.3,1362.9 621.8,1358.4 622.3,1353.9 622.8,1349.4 623.3,1353.9 623.8,1358.4 624.4,1363.0 624.9,1367.5 625.4,1362.4 625.9,1357.2 626.4,1352.1 626.9,1347.0 627.4,1351.8 627.9,1356.7 628.5,1361.6 629.0,1366.4 629.5,1361.8 630.0,1357.2 630.5,1352.6 631.0,1348.0 631.4,1352.5 631.8,1357.0 632.2,1361.5 632.7,1366.0 633.1,1370.5 633.6,1365.8 634.1,1361.1 634.6,1356.3 635.1,1351.6 635.6,1356.8 636.1,1362.1 636.7,1367.3 637.2,1372.5 637.7,1367.3 638.2,1362.1 638.7,1356.9 639.2,1351.7 639.7,1356.1 640.2,1360.5 640.8,1364.9 641.3,1369.2 641.8,1364.7 642.3,1360.1 642.8,1355.5 643.3,1350.9 644.0,1356.1 644.7,1361.3 645.4,1366.4 646.0,1361.4 646.7,1356.3 647.4,1351.3 647.9,1355.9 648.4,1360.5 649.0,1365.1 649.5,1369.7 650.1,1364.0 650.8,1358.2 651.5,1352.5 652.0,1357.6 652.5,1362.8 653.1,1367.9 653.6,1373.0 654.1,1367.6 654.6,1362.1 655.1,1356.7 655.6,1351.3 656.3,1356.9 657.0,1362.5 657.7,1368.2 658.1,1363.7 658.5,1359.1 658.9,1354.6 659.3,1350.1 659.7,1345.6 660.4,1351.1 661.1,1356.5 661.8,1362.0 662.3,1357.0 662.8,1352.1 663.3,1347.1 663.8,1342.1 664.5,1346.7 665.2,1351.3 665.9,1355.9 666.5,1350.6 667.2,1345.3 667.9,1340.1 668.9,1345.6 670.0,1351.1 670.6,1347.0 671.3,1342.9 672.0,1338.7 673.0,1344.0 674.1,1349.4 675.1,1344.0 676.1,1338.6 676.8,1342.9 677.5,1347.2 678.2,1351.4 679.2,1346.4 680.2,1341.4 680.9,1345.8 681.6,1350.2 682.3,1354.6 683.3,1349.7 684.3,1344.8 685.0,1349.6 685.7,1354.5 686.4,1359.3 687.4,1354.6 688.4,1349.9 689.1,1354.7 689.8,1359.6 690.5,1364.4 691.5,1358.7 692.5,1352.9 693.2,1357.4 693.9,1362.0 694.6,1366.5 695.2,1362.3 695.9,1358.1 696.6,1353.9 697.3,1358.7 698.0,1363.5 698.7,1368.3 699.2,1363.9 699.7,1359.5 700.2,1355.1 700.7,1350.8 701.2,1355.4 701.7,1360.0 702.3,1364.7 702.8,1369.3 703.2,1364.7 703.6,1360.0 704.0,1355.4 704.4,1350.8 704.8,1346.1 705.3,1351.1 705.8,1356.0 706.4,1361.0 706.9,1365.9 707.4,1360.6 707.9,1355.3 708.4,1350.0 708.9,1344.7 709.6,1349.8 710.3,1354.8 711.0,1359.9 711.6,1354.9 712.3,1349.9 713.0,1344.9 713.5,1350.2 714.0,1355.5 714.6,1360.7 715.1,1366.0 715.6,1361.0 716.1,1356.0 716.6,1350.9 717.1,1345.9 717.5,1350.9 717.9,1355.8 718.3,1360.7 718.8,1365.7 719.2,1370.6 719.6,1366.0 720.0,1361.3 720.4,1356.7 720.8,1352.0 721.2,1347.4 721.6,1352.4 722.0,1357.5 722.4,1362.6 722.9,1367.6 723.3,1372.7 723.7,1367.9 724.1,1363.1 724.5,1358.3 724.9,1353.5 725.3,1348.8 725.8,1354.3 726.3,1359.9 726.9,1365.4 727.4,1370.9 727.9,1365.4 728.4,1359.9 728.9,1354.3 729.4,1348.8 729.9,1353.3 730.4,1357.8 731.0,1362.3 731.5,1366.8 732.0,1362.1 732.5,1357.5 733.0,1352.8 733.5,1348.1 734.2,1353.0 734.9,1357.8 735.6,1362.7 736.2,1357.2 736.9,1351.7 737.6,1346.1 738.3,1351.8 739.0,1357.5 739.7,1363.1 740.7,1358.0 741.7,1352.8 742.4,1357.8 743.1,1362.8 743.8,1367.8 744.8,1363.0 745.8,1358.2 746.8,1364.0 747.9,1369.8 748.9,1364.9 749.9,1359.9 750.9,1365.5 752.0,1371.1 753.0,1366.2 754.0,1361.4 755.0,1365.7 756.1,1370.0 757.1,1364.4 758.1,1358.8 759.1,1362.9 760.2,1366.9 761.2,1361.5 762.2,1356.1 763.2,1360.6 764.3,1365.0 765.3,1359.0 766.3,1353.0 767.3,1358.3 768.4,1363.5 769.4,1358.1 770.4,1352.7 771.1,1357.0 771.8,1361.3 772.5,1365.5 773.5,1360.3 774.5,1355.2 775.2,1359.3 775.9,1363.4 776.6,1367.6 777.6,1362.5 778.6,1357.4 779.6,1363.5 780.7,1369.6 781.7,1364.3 782.7,1358.9 783.4,1363.1 784.1,1367.4 784.8,1371.6 785.4,1366.8 786.1,1362.0 786.8,1357.3 787.5,1361.7 788.2,1366.2 788.9,1370.6 789.4,1366.1 789.9,1361.6 790.4,1357.1 790.9,1352.6 791.4,1357.0 791.9,1361.4 792.5,1365.8 793.0,1370.2 793.6,1364.7 794.3,1359.2 795.0,1353.6 795.5,1358.2 796.0,1362.7 796.6,1367.3 797.1,1371.9 797.7,1366.7 798.4,1361.6 799.1,1356.5 799.8,1362.1 800.5,1367.8 801.2,1373.5 801.8,1368.0 802.5,1362.4 803.2,1356.9 803.9,1362.4 804.6,1368.0 805.3,1373.5 805.8,1368.9 806.3,1364.4 806.8,1359.8 807.3,1355.3 807.8,1359.8 808.3,1364.4 808.9,1368.9 809.4,1373.5 809.9,1368.2 810.4,1363.0 810.9,1357.8 811.4,1352.5 811.9,1357.3 812.4,1362.1 813.0,1367.0 813.5,1371.8 813.9,1366.9 814.3,1362.0 814.7,1357.1 815.1,1352.3 815.5,1347.4 816.0,1352.9 816.5,1358.4 817.1,1363.9 817.6,1369.4 817.9,1364.1 818.2,1358.9 818.6,1353.6 818.9,1348.3 819.3,1343.1 819.6,1337.8 820.0,1342.5 820.4,1347.2 820.8,1351.8 821.3,1356.5 821.7,1361.2 822.0,1355.8 822.3,1350.5 822.7,1345.2 823.0,1339.8 823.4,1334.5 823.7,1329.1 824.2,1333.5 824.7,1337.9 825.3,1342.3 825.8,1346.7 826.3,1342.0 826.8,1337.2 827.3,1332.5 827.8,1327.7 828.5,1332.7 829.2,1337.7 829.9,1342.7 830.5,1338.5 831.2,1334.4 831.9,1330.2 832.6,1335.4 833.3,1340.5 834.0,1345.6 835.0,1339.5 836.0,1333.3 836.7,1338.7 837.4,1344.1 838.1,1349.5 838.7,1344.0 839.4,1338.6 840.1,1333.2 840.5,1337.9 840.9,1342.6 841.3,1347.3 841.8,1352.0 842.2,1356.7 842.6,1351.7 843.0,1346.7 843.4,1341.6 843.8,1336.6 844.2,1331.6 844.6,1336.9 844.9,1342.1 845.2,1347.3 845.6,1352.5 845.9,1357.7 846.3,1363.0 846.8,1357.8 847.3,1352.7 847.8,1347.6 848.3,1342.5 848.7,1347.6 849.1,1352.7 849.5,1357.8 850.0,1363.0 850.4,1368.1 851.0,1362.8 851.7,1357.5 852.4,1352.2 852.9,1357.0 853.4,1361.7 854.0,1366.4 854.5,1371.2 855.0,1366.2 855.5,1361.2 856.0,1356.2 856.5,1351.2 857.0,1356.7 857.5,1362.2 858.1,1367.7 858.6,1373.2 859.0,1368.5 859.4,1363.8 859.8,1359.0 860.2,1354.3 860.6,1349.6 861.1,1354.6 861.6,1359.7 862.2,1364.7 862.7,1369.8 863.1,1365.2 863.5,1360.7 863.9,1356.1 864.3,1351.6 864.7,1347.0 865.2,1351.6 865.7,1356.2 866.3,1360.8 866.8,1365.5 867.3,1360.4 867.8,1355.3 868.3,1350.2 868.8,1345.1 869.5,1349.8 870.2,1354.6 870.9,1359.3 871.5,1354.1 872.2,1348.8 872.9,1343.5 873.6,1347.8 874.3,1352.0 875.0,1356.2 876.0,1350.6 877.0,1345.1 877.7,1349.6 878.4,1354.1 879.1,1358.6 880.1,1352.9 881.1,1347.1 881.8,1352.0 882.5,1356.9 883.2,1361.7 884.2,1355.9 885.2,1350.0 885.7,1354.7 886.2,1359.3 886.8,1363.9 887.3,1368.6 887.9,1363.6 888.6,1358.6 889.3,1353.7 889.8,1358.3 890.3,1362.9 890.9,1367.5 891.4,1372.1 892.0,1367.3 892.7,1362.5 893.4,1357.8 894.1,1362.6 894.8,1367.3 895.5,1372.1 896.1,1366.7 896.8,1361.2 897.5,1355.8 898.2,1360.6 898.9,1365.3 899.6,1370.1 900.2,1365.6 900.9,1361.2 901.6,1356.8 902.3,1361.7 903.0,1366.7 903.7,1371.6 904.7,1365.5 905.7,1359.4 906.4,1363.7 907.1,1368.0 907.8,1372.3 908.8,1367.2 909.8,1362.1 910.8,1366.9 911.9,1371.7 912.5,1366.2 913.2,1360.7 913.9,1355.2 914.4,1359.6 914.9,1364.0 915.5,1368.3 916.0,1372.7 916.3,1367.4 916.6,1362.1 917.0,1356.8 917.3,1351.5 917.7,1346.1 918.0,1340.8 918.4,1346.0 918.7,1351.2 919.0,1356.3 919.4,1361.5 919.7,1366.7 920.1,1371.8 920.4,1366.5 920.6,1361.2 920.9,1355.9 921.2,1350.6 921.5,1345.3 921.8,1339.9 922.1,1334.6 922.5,1339.9 922.8,1345.2 923.1,1350.5 923.5,1355.8 923.8,1361.1 924.2,1366.4 924.4,1361.7 924.7,1357.0 924.9,1352.3 925.2,1347.6 925.4,1342.9 925.7,1338.2 926.0,1333.5 926.2,1328.8 926.5,1333.6 926.8,1338.4 927.1,1343.2 927.4,1347.9 927.7,1352.7 928.0,1357.5 928.3,1362.2 928.5,1357.1 928.8,1352.0 929.0,1346.8 929.3,1341.7 929.5,1336.6 929.8,1331.4 930.1,1326.3 930.3,1321.2 930.6,1326.0 930.8,1330.8 931.1,1335.6 931.3,1340.5 931.6,1345.3 931.9,1350.1 932.1,1354.9 932.4,1359.8 932.6,1355.1 932.9,1350.3 933.1,1345.6 933.4,1340.9 933.6,1336.2 933.9,1331.5 934.2,1326.8 934.4,1322.1 934.7,1327.3 934.9,1332.5 935.2,1337.7 935.4,1343.0 935.7,1348.2 936.0,1353.4 936.2,1358.6 936.5,1363.9 936.8,1358.6 937.0,1353.2 937.3,1347.9 937.6,1342.6 937.9,1337.3 938.2,1332.0 938.5,1326.7 938.8,1331.7 939.0,1336.7 939.3,1341.7 939.5,1346.7 939.8,1351.7 940.1,1356.8 940.3,1361.8 940.6,1366.8 941.2,1361.2 941.9,1355.5 942.6,1349.9 943.1,1354.5 943.6,1359.1 944.2,1363.7 944.7,1368.3 945.7,1364.3 946.7,1360.3 947.7,1365.8 948.8,1371.4 949.8,1366.3 950.8,1361.3 951.8,1366.5 952.9,1371.6 953.4,1366.5 953.9,1361.4 954.4,1356.3 954.9,1351.2 955.6,1356.2 956.3,1361.2 957.0,1366.1 957.3,1361.5 957.6,1356.8 958.0,1352.2 958.3,1347.5 958.7,1342.9 959.0,1338.2 959.5,1343.1 960.0,1348.1 960.6,1353.0 961.1,1357.9 961.4,1352.7 961.7,1347.5 962.1,1342.3 962.4,1337.1 962.8,1332.0 963.1,1326.8 963.5,1331.9 963.9,1337.1 964.3,1342.2 964.8,1347.4 965.2,1352.5 965.6,1347.1 966.0,1341.7 966.4,1336.2 966.8,1330.8 967.2,1325.4 967.6,1330.5 968.0,1335.7 968.4,1340.8 968.9,1346.0 969.3,1351.1 969.8,1345.8 970.3,1340.4 970.8,1335.0 971.3,1329.6 971.7,1334.6 972.1,1339.6 972.5,1344.7 973.0,1349.7 973.4,1354.7 973.9,1349.6 974.4,1344.5 974.9,1339.3 975.4,1334.2 975.8,1339.0 976.2,1343.8 976.6,1348.7 977.1,1353.5 977.5,1358.3 977.9,1353.3 978.3,1348.3 978.7,1343.2 979.1,1338.2 979.5,1333.1 979.9,1337.9 980.2,1342.7 980.5,1347.5 980.9,1352.3 981.2,1357.1 981.6,1361.9 981.9,1357.3 982.2,1352.7 982.6,1348.0 982.9,1343.4 983.3,1338.8 983.6,1334.2 984.0,1339.5 984.3,1344.7 984.6,1350.0 985.0,1355.3 985.3,1360.6 985.7,1365.9 986.1,1360.7 986.5,1355.4 986.9,1350.1 987.3,1344.9 987.7,1339.6 988.1,1344.7 988.4,1349.8 988.7,1354.8 989.1,1359.9 989.4,1365.0 989.8,1370.0 990.4,1365.3 991.1,1360.6 991.8,1355.9 992.3,1360.3 992.8,1364.7 993.4,1369.1 993.9,1373.5 994.5,1368.9 995.2,1364.2 995.9,1359.6 996.6,1364.2 997.3,1368.9 998.0,1373.5 998.6,1367.9 999.3,1362.3 1000.0,1356.6 1000.7,1361.6 1001.4,1366.5 1002.1,1371.5 1002.6,1366.9 1003.1,1362.3 1003.6,1357.7 1004.1,1353.1 1004.8,1358.1 1005.5,1363.1 1006.2,1368.1 1006.8,1363.4 1007.5,1358.6 1008.2,1353.8 1009.2,1358.0 1010.3,1362.3 1011.3,1358.6 1012.3,1355.0 1014.4,1360.8 1016.4,1354.5 1018.5,1360.8 1019.5,1355.6 1020.5,1350.3 1021.5,1355.1 1022.6,1359.8 1023.1,1355.4 1023.6,1351.0 1024.1,1346.6 1024.6,1342.1 1025.3,1347.2 1026.0,1352.2 1026.7,1357.3 1027.2,1351.7 1027.7,1346.1 1028.2,1340.5 1028.7,1334.9 1029.4,1339.6 1030.1,1344.4 1030.8,1349.1 1031.3,1344.0 1031.8,1338.8 1032.3,1333.7 1032.8,1328.5 1033.5,1333.2 1034.2,1338.0 1034.9,1342.7 1035.4,1337.7 1035.9,1332.8 1036.4,1327.8 1036.9,1322.9 1037.6,1327.9 1038.3,1332.8 1039.0,1337.8 1039.6,1333.0 1040.3,1328.2 1041.0,1323.4 1041.5,1328.6 1042.0,1333.7 1042.6,1338.8 1043.1,1344.0 1043.7,1338.7 1044.4,1333.4 1045.1,1328.1 1045.5,1332.6 1045.9,1337.2 1046.3,1341.7 1046.8,1346.3 1047.2,1350.8 1047.7,1346.2 1048.2,1341.5 1048.7,1336.9 1049.2,1332.2 1049.6,1337.6 1050.0,1343.0 1050.4,1348.3 1050.9,1353.7 1051.3,1359.0 1051.9,1353.3 1052.6,1347.6 1053.3,1341.9 1053.7,1346.6 1054.0,1351.3 1054.3,1355.9 1054.7,1360.6 1055.0,1365.3 1055.4,1370.0 1056.0,1364.7 1056.7,1359.4 1057.4,1354.1 1057.9,1358.6 1058.4,1363.1 1059.0,1367.6 1059.5,1372.1 1060.0,1367.4 1060.5,1362.8 1061.0,1358.2 1061.5,1353.6 1062.2,1359.1 1062.9,1364.5 1063.6,1370.0 1064.2,1364.8 1064.9,1359.6 1065.6,1354.4 1066.3,1359.5 1067.0,1364.7 1067.7,1369.8 1068.3,1365.5 1069.0,1361.2 1069.7,1356.9 1070.4,1361.3 1071.1,1365.7 1071.8,1370.1 1072.8,1365.0 1073.8,1359.8 1074.5,1363.9 1075.2,1368.0 1075.9,1372.2 1076.9,1367.5 1077.9,1362.9 1078.9,1368.1 1080.0,1373.3 1081.0,1367.2 1082.0,1361.1 1083.0,1367.0 1084.1,1372.9 1084.7,1368.1 1085.4,1363.4 1086.1,1358.7 1086.8,1363.2 1087.5,1367.7 1088.2,1372.2 1088.8,1366.8 1089.5,1361.4 1090.2,1355.9 1090.9,1360.7 1091.6,1365.4 1092.3,1370.2 1092.9,1364.5 1093.6,1358.8 1094.3,1353.1 1095.0,1358.1 1095.7,1363.1 1096.4,1368.1 1097.0,1363.1 1097.7,1358.1 1098.4,1353.1 1098.9,1357.6 1099.4,1362.0 1100.0,1366.5 1100.5,1370.9 1101.1,1366.2 1101.8,1361.4 1102.5,1356.7 1103.2,1362.0 1103.9,1367.4 1104.6,1372.7 1105.2,1367.5 1105.9,1362.3 1106.6,1357.1 1107.6,1362.9 1108.7,1368.6 1109.3,1364.4 1110.0,1360.3 1110.7,1356.1 1111.7,1360.7 1112.8,1365.4 1113.4,1361.2 1114.1,1357.1 1114.8,1353.0 1115.8,1358.2 1116.9,1363.3 1117.5,1358.8 1118.2,1354.3 1118.9,1349.7 1119.9,1355.5 1121.0,1361.3 1121.5,1356.8 1122.0,1352.3 1122.5,1347.8 1123.0,1343.3 1123.7,1348.6 1124.4,1353.9 1125.1,1359.2 1125.5,1354.5 1125.9,1349.7 1126.3,1345.0 1126.7,1340.2 1127.1,1335.5 1127.6,1340.9 1128.1,1346.3 1128.7,1351.7 1129.2,1357.2 1129.6,1352.5 1130.0,1347.8 1130.4,1343.1 1130.8,1338.4 1131.2,1333.7 1131.6,1338.9 1132.0,1344.1 1132.4,1349.2 1132.9,1354.4 1133.3,1359.6 1133.8,1354.2 1134.3,1348.9 1134.8,1343.6 1135.3,1338.3 1135.7,1343.0 1136.1,1347.8 1136.5,1352.5 1137.0,1357.3 1137.4,1362.0 1137.9,1357.0 1138.4,1351.9 1138.9,1346.9 1139.4,1341.8 1139.9,1346.6 1140.4,1351.4 1141.0,1356.2 1141.5,1361.0 1142.0,1356.4 1142.5,1351.9 1143.0,1347.4 1143.5,1342.8 1144.2,1348.2 1144.9,1353.5 1145.6,1358.9 1146.2,1353.3 1146.9,1347.7 1147.6,1342.1 1148.6,1348.0 1149.7,1354.0 1150.3,1349.2 1151.0,1344.4 1151.7,1339.6 1152.7,1344.3 1153.8,1349.1 1154.8,1343.8 1155.8,1338.5 1156.3,1343.2 1156.8,1347.9 1157.4,1352.7 1157.9,1357.4 1158.5,1351.8 1159.2,1346.1 1159.9,1340.5 1160.3,1345.6 1160.7,1350.7 1161.1,1355.8 1161.6,1360.8 1162.0,1365.9 1162.6,1360.5 1163.3,1355.0 1164.0,1349.6 1164.5,1355.0 1165.0,1360.3 1165.6,1365.7 1166.1,1371.0 1166.7,1365.9 1167.4,1360.7 1168.1,1355.6 1168.8,1361.0 1169.5,1366.4 1170.2,1371.8 1170.7,1366.2 1171.2,1360.6 1171.7,1355.0 1172.2,1349.5 1172.7,1354.8 1173.2,1360.1 1173.8,1365.4 1174.3,1370.8 1174.7,1365.7 1175.1,1360.7 1175.5,1355.7 1175.9,1350.7 1176.3,1345.7 1176.8,1350.2 1177.3,1354.7 1177.9,1359.2 1178.4,1363.8 1178.9,1359.0 1179.4,1354.3 1179.9,1349.6 1180.4,1344.8 1181.4,1350.6 1182.5,1356.4 1183.1,1351.6 1183.8,1346.9 1184.5,1342.1 1185.5,1347.9 1186.6,1353.6 1187.1,1348.4 1187.6,1343.2 1188.1,1338.1 1188.6,1332.9 1189.1,1337.8 1189.6,1342.7 1190.2,1347.7 1190.7,1352.6 1191.1,1347.4 1191.5,1342.2 1191.9,1337.0 1192.3,1331.8 1192.7,1326.6 1193.1,1331.4 1193.4,1336.1 1193.7,1340.9 1194.1,1345.7 1194.4,1350.4 1194.8,1355.2 1195.1,1350.3 1195.4,1345.5 1195.8,1340.6 1196.1,1335.8 1196.5,1330.9 1196.8,1326.0 1197.2,1331.4 1197.5,1336.7 1197.8,1342.1 1198.2,1347.4 1198.5,1352.8 1198.9,1358.1 1199.4,1353.4 1199.9,1348.8 1200.4,1344.1 1200.9,1339.4 1201.4,1344.8 1201.9,1350.3 1202.5,1355.8 1203.0,1361.2 1203.6,1356.8 1204.3,1352.3 1205.0,1347.8 1206.0,1353.7 1207.1,1359.5 1208.1,1353.7 1209.1,1347.8 1210.1,1352.4 1211.2,1357.1 1212.2,1351.9 1213.2,1346.7 1214.2,1350.8 1215.3,1354.9 1215.9,1349.8 1216.6,1344.7 1217.3,1339.6 1218.0,1344.0 1218.7,1348.4 1219.4,1352.8 1219.9,1347.8 1220.4,1342.8 1220.9,1337.8 1221.4,1332.8 1222.1,1338.2 1222.8,1343.6 1223.5,1349.0 1224.0,1343.4 1224.5,1337.8 1225.0,1332.2 1225.5,1326.6 1226.0,1331.1 1226.5,1335.6 1227.1,1340.0 1227.6,1344.5 1228.0,1339.8 1228.4,1335.0 1228.8,1330.3 1229.2,1325.5 1229.6,1320.8 1230.3,1326.3 1231.0,1331.8 1231.7,1337.3 1232.2,1331.8 1232.7,1326.2 1233.2,1320.7 1233.7,1315.2 1234.2,1320.3 1234.7,1325.5 1235.3,1330.6 1235.8,1335.8 1236.3,1331.4 1236.8,1327.0 1237.3,1322.6 1237.8,1318.2 1238.2,1323.6 1238.6,1328.9 1239.0,1334.3 1239.5,1339.7 1239.9,1345.0 1240.4,1339.5 1240.9,1333.9 1241.4,1328.4 1241.9,1322.9 1242.3,1328.3 1242.6,1333.7 1242.9,1339.1 1243.3,1344.5 1243.6,1349.9 1244.0,1355.2 1244.4,1349.9 1244.8,1344.5 1245.2,1339.1 1245.6,1333.7 1246.0,1328.3 1246.3,1333.5 1246.6,1338.7 1246.9,1343.9 1247.2,1349.1 1247.5,1354.3 1247.8,1359.5 1248.1,1364.7 1248.4,1359.9 1248.7,1355.1 1249.1,1350.3 1249.4,1345.5 1249.8,1340.7 1250.1,1335.8 1250.4,1340.7 1250.7,1345.6 1251.0,1350.4 1251.3,1355.3 1251.6,1360.1 1251.9,1365.0 1252.2,1369.9 1252.6,1364.7 1253.0,1359.5 1253.4,1354.4 1253.8,1349.2 1254.2,1344.0 1254.6,1349.3 1255.0,1354.6 1255.4,1359.9 1255.9,1365.2 1256.3,1370.6 1256.6,1365.7 1256.9,1360.8 1257.3,1355.9 1257.6,1351.0 1258.0,1346.1 1258.3,1341.2 1258.7,1346.2 1259.1,1351.3 1259.5,1356.3 1260.0,1361.4 1260.4,1366.5 1260.8,1361.0 1261.2,1355.6 1261.6,1350.2 1262.0,1344.8 1262.4,1339.4 1262.9,1344.2 1263.4,1349.1 1264.0,1353.9 1264.5,1358.7 1265.1,1353.3 1265.8,1347.9 1266.5,1342.5 1268.6,1349.5 1270.6,1343.7 1271.6,1348.3 1272.7,1352.8 1273.7,1347.8 1274.7,1342.7 1275.4,1347.6 1276.1,1352.5 1276.8,1357.3 1277.4,1351.9 1278.1,1346.4 1278.8,1341.0 1279.2,1345.6 1279.6,1350.2 1280.0,1354.7 1280.5,1359.3 1280.9,1363.9 1281.3,1358.9 1281.7,1353.9 1282.1,1348.9 1282.5,1343.9 1282.9,1339.0 1283.3,1344.2 1283.6,1349.5 1283.9,1354.7 1284.3,1360.0 1284.6,1365.2 1285.0,1370.5 1285.3,1365.8 1285.5,1361.1 1285.8,1356.5 1286.1,1351.8 1286.4,1347.2 1286.7,1342.5 1287.0,1337.9 1287.4,1342.5 1287.7,1347.2 1288.0,1351.9 1288.4,1356.6 1288.7,1361.3 1289.1,1366.0 1289.4,1361.3 1289.7,1356.6 1290.1,1351.9 1290.4,1347.2 1290.8,1342.5 1291.1,1337.9 1291.5,1342.5 1291.9,1347.1 1292.3,1351.8 1292.8,1356.4 1293.2,1361.1 1293.6,1356.5 1294.0,1352.0 1294.4,1347.4 1294.8,1342.9 1295.2,1338.4 1295.7,1342.8 1296.2,1347.3 1296.8,1351.7 1297.3,1356.1 1297.9,1350.9 1298.6,1345.7 1299.3,1340.4 1300.3,1345.8 1301.4,1351.2 1302.4,1346.8 1303.4,1342.3 1304.4,1347.9 1305.5,1353.4 1306.5,1347.3 1307.5,1341.3 1308.0,1346.4 1308.5,1351.4 1309.1,1356.5 1309.6,1361.6 1310.1,1357.1 1310.6,1352.6 1311.1,1348.1 1311.6,1343.6 1312.0,1348.4 1312.4,1353.1 1312.8,1357.9 1313.3,1362.6 1313.7,1367.4 1314.3,1363.2 1315.0,1359.1 1315.7,1354.9 1316.2,1359.3 1316.7,1363.7 1317.3,1368.1 1317.8,1372.5 1318.8,1366.7 1319.8,1360.9 1320.8,1366.3 1321.9,1371.7 1322.9,1366.7 1323.9,1361.8 1324.9,1366.3 1326.0,1370.9 1327.0,1366.6 1328.0,1362.3 1329.0,1366.5 1330.1,1370.7 1331.1,1366.5 1332.1,1362.3 1333.1,1366.5 1334.2,1370.7 1335.2,1366.5 1336.2,1362.3 1337.2,1366.1 1338.3,1369.9 1339.3,1366.1 1340.3,1362.3 1342.4,1369.1 1343.4,1365.1 1344.4,1361.1 1346.5,1366.2 1347.5,1361.6 1348.5,1357.0 1350.6,1363.0 1351.6,1358.0 1352.6,1353.1 1354.7,1359.2 1355.7,1355.1 1356.7,1351.0 1358.8,1355.1 1360.8,1349.0 1362.9,1354.4 1363.9,1350.7 1364.9,1346.9 1367.0,1360.7 1367.6,1355.4 1368.3,1350.0 1369.0,1344.7 1369.5,1349.2 1370.0,1353.7 1370.6,1358.2 1371.1,1362.8 1371.7,1358.5 1372.4,1354.3 1373.1,1350.1 1373.8,1355.5 1374.5,1360.8 1375.2,1366.2 1375.8,1361.6 1376.5,1357.1 1377.2,1352.5 1377.9,1356.8 1378.6,1361.1 1379.3,1365.3 1379.8,1360.4 1380.3,1355.6 1380.8,1350.7 1381.3,1345.8 1382.0,1351.3 1382.7,1356.9 1383.4,1362.4 1383.9,1357.3 1384.4,1352.2 1384.9,1347.1 1385.4,1342.0 1386.1,1347.2 1386.8,1352.4 1387.5,1357.6 1388.0,1353.0 1388.5,1348.4 1389.0,1343.9 1389.5,1339.3 1390.2,1344.4 1390.9,1349.5 1391.6,1354.5 1392.2,1349.2 1392.9,1343.9 1393.6,1338.6 1394.3,1343.0 1395.0,1347.3 1395.7,1351.6 1395.9,1346.6 1396.1,1341.6 1396.3,1336.6 1396.5,1331.7 1396.7,1326.7 1396.9,1321.7 1397.1,1316.7 1397.3,1311.7 1397.5,1306.7 1397.7,1301.7 1397.9,1306.6 1398.1,1311.4 1398.3,1316.2 1398.5,1321.0 1398.7,1325.9 1398.9,1330.7 1399.1,1335.5 1399.4,1340.3 1399.6,1345.1 1399.8,1350.0 1399.9,1345.1 1400.1,1340.2 1400.3,1335.4 1400.4,1330.5 1400.6,1325.6 1400.8,1320.8 1401.0,1315.9 1401.1,1311.0 1401.3,1306.2 1401.5,1301.3 1401.6,1296.4 1401.8,1291.6 1402.0,1296.4 1402.2,1301.3 1402.3,1306.2 1402.5,1311.1 1402.7,1315.9 1402.8,1320.8 1403.0,1325.7 1403.2,1330.6 1403.4,1335.5 1403.5,1340.3 1403.7,1345.2 1403.9,1350.1 1404.1,1345.3 1404.4,1340.5 1404.6,1335.8 1404.9,1331.0 1405.1,1326.2 1405.4,1321.4 1405.7,1316.7 1405.9,1311.9 1406.2,1316.7 1406.4,1321.5 1406.7,1326.4 1406.9,1331.2 1407.2,1336.0 1407.5,1340.8 1407.7,1345.7 1408.0,1350.5 1408.3,1345.4 1408.6,1340.3 1409.0,1335.3 1409.3,1330.2 1409.7,1325.1 1410.0,1320.0 1410.2,1325.1 1410.4,1330.3 1410.6,1335.4 1410.8,1340.5 1411.0,1345.6 1411.2,1350.7 1411.4,1355.9 1411.7,1361.0 1411.9,1366.1 1412.1,1371.2 1412.3,1366.0 1412.5,1360.8 1412.7,1355.7 1413.0,1350.5 1413.2,1345.3 1413.4,1340.1 1413.7,1334.9 1413.9,1329.8 1414.1,1324.6 1414.3,1329.4 1414.5,1334.3 1414.7,1339.2 1414.9,1344.1 1415.1,1348.9 1415.3,1353.8 1415.5,1358.7 1415.8,1363.5 1416.0,1368.4 1416.2,1373.3 1416.4,1368.4 1416.6,1363.6 1416.8,1358.8 1417.0,1353.9 1417.2,1349.1 1417.4,1344.2 1417.6,1339.4 1417.8,1334.6 1418.0,1329.7 1418.2,1324.9 1418.4,1329.8 1418.6,1334.6 1418.8,1339.5 1419.0,1344.3 1419.2,1349.2 1419.4,1354.1 1419.6,1358.9 1419.9,1363.8 1420.1,1368.6 1420.3,1373.5 1420.5,1368.6 1420.7,1363.8 1420.9,1358.9 1421.1,1354.1 1421.3,1349.2 1421.5,1344.4 1421.7,1339.5 1421.9,1334.7 1422.1,1329.8 1422.3,1325.0 1422.5,1329.8 1422.7,1334.7 1422.9,1339.5 1423.1,1344.4 1423.3,1349.2 1423.5,1354.1 1423.7,1358.9 1424.0,1363.8 1424.2,1368.6 1424.4,1373.5 1424.6,1368.6 1424.8,1363.8 1425.0,1358.9 1425.2,1354.1 1425.4,1349.2 1425.6,1344.4 1425.8,1339.5 1426.0,1334.7 1426.2,1329.8 1426.4,1325.0 1426.6,1329.8 1426.8,1334.6 1427.0,1339.4 1427.2,1344.2 1427.4,1349.0 1427.6,1353.8 1427.8,1358.6 1428.1,1363.4 1428.3,1368.2 1428.5,1373.0 1428.6,1368.1 1428.7,1363.1 1428.8,1358.1 1428.9,1353.1 1429.0,1348.1 1429.1,1343.1 1429.2,1338.1 1429.3,1333.2 1429.4,1328.2 1429.5,1323.2 1429.6,1318.2 1429.7,1313.2 1429.8,1308.2 1429.9,1303.2 1430.0,1298.2 1430.1,1293.3 1430.2,1288.3 1430.3,1283.3 1430.4,1278.3 1430.5,1273.3 1430.6,1278.3 1430.7,1283.2 1430.8,1288.1 1430.9,1293.1 1431.0,1298.0 1431.1,1302.9 1431.2,1307.9 1431.3,1312.8 1431.4,1317.7 1431.5,1322.7 1431.6,1327.6 1431.7,1332.5 1431.8,1337.5 1431.9,1342.4 1432.1,1347.3 1432.2,1352.3 1432.3,1357.2 1432.4,1362.2 1432.5,1367.1 1432.6,1372.0 1432.7,1367.1 1432.8,1362.1 1432.9,1357.2 1433.0,1352.2 1433.1,1347.3 1433.2,1342.3 1433.3,1337.4 1433.4,1332.4 1433.5,1327.5 1433.6,1322.5 1433.7,1317.6 1433.8,1312.7 1433.9,1307.7 1434.0,1302.8 1434.1,1297.8 1434.2,1292.9 1434.3,1287.9 1434.4,1283.0 1434.5,1278.0 1434.6,1273.1 1434.7,1278.1 1434.8,1283.1 1434.9,1288.1 1435.0,1293.1 1435.2,1298.1 1435.3,1303.1 1435.4,1308.1 1435.5,1313.1 1435.6,1318.1 1435.7,1323.1 1435.8,1328.0 1435.9,1333.0 1436.0,1338.0 1436.1,1343.0 1436.2,1348.0 1436.3,1353.0 1436.4,1358.0 1436.6,1363.0 1436.7,1368.0 1436.8,1363.1 1436.9,1358.3 1437.0,1353.4 1437.1,1348.5 1437.2,1343.6 1437.3,1338.8 1437.4,1333.9 1437.5,1329.0 1437.6,1324.1 1437.7,1319.3 1437.9,1314.4 1438.0,1309.5 1438.1,1304.6 1438.2,1299.7 1438.3,1294.9 1438.4,1290.0 1438.5,1285.1 1438.6,1280.2 1438.7,1275.4 1438.8,1280.4 1438.9,1285.4 1439.1,1290.4 1439.2,1295.4 1439.3,1300.4 1439.4,1305.4 1439.5,1310.4 1439.6,1315.4 1439.7,1320.4 1439.9,1325.4 1440.0,1330.4 1440.1,1335.4 1440.2,1340.4 1440.3,1345.4 1440.4,1350.4 1440.5,1355.4 1440.6,1360.4 1440.8,1365.4 1440.9,1360.3 1441.0,1355.2 1441.1,1350.1 1441.2,1345.0 1441.3,1339.9 1441.4,1334.7 1441.6,1329.6 1441.7,1324.5 1441.8,1319.4 1441.9,1314.3 1442.0,1309.2 1442.1,1304.1 1442.2,1299.0 1442.4,1293.8 1442.5,1288.7 1442.6,1283.6 1442.7,1278.5 1442.8,1273.4 1443.0,1278.3 1443.1,1283.2 1443.3,1288.2 1443.4,1293.1 1443.6,1298.0 1443.8,1303.0 1443.9,1307.9 1444.1,1312.8 1444.2,1317.7 1444.4,1322.7 1444.5,1327.6 1444.7,1332.5 1444.9,1337.4 1445.0,1332.6 1445.2,1327.7 1445.3,1322.8 1445.4,1318.0 1445.6,1313.1 1445.7,1308.2 1445.9,1303.4 1446.0,1298.5 1446.2,1293.6 1446.3,1288.8 1446.5,1283.9 1446.6,1279.0 1446.8,1274.2 1446.9,1269.3 1447.1,1274.2 1447.2,1279.0 1447.4,1283.8 1447.5,1288.7 1447.6,1293.5 1447.8,1298.4 1447.9,1303.2 1448.1,1308.0 1448.2,1312.9 1448.4,1317.7 1448.5,1322.6 1448.7,1327.4 1448.8,1332.3 1449.0,1337.1 1449.1,1332.0 1449.3,1326.9 1449.5,1321.9 1449.6,1316.8 1449.8,1311.7 1450.0,1306.6 1450.2,1301.5 1450.3,1296.5 1450.5,1291.4 1450.7,1286.3 1450.8,1281.2 1451.0,1276.1 1451.2,1281.2 1451.4,1286.2 1451.5,1291.3 1451.7,1296.3 1451.9,1301.4 1452.0,1306.4 1452.2,1311.5 1452.4,1316.5 1452.6,1321.6 1452.7,1326.6 1452.9,1331.7 1453.1,1336.7 1453.6,1331.9 1454.1,1327.1 1454.6,1322.3 1455.1,1317.5 1455.6,1322.4 1456.1,1327.3 1456.7,1332.2 1457.2,1337.1 1457.7,1332.4 1458.2,1327.7 1458.7,1323.0 1459.2,1318.3 1459.7,1323.3 1460.2,1328.2 1460.8,1333.1 1461.3,1338.1 1461.8,1333.1 1462.3,1328.1 1462.8,1323.2 1463.3,1318.2 1463.8,1323.0 1464.3,1327.7 1464.9,1332.5 1465.4,1337.2 1465.9,1332.4 1466.4,1327.6 1466.9,1322.8 1467.4,1318.0 1467.9,1322.4 1468.4,1326.7 1469.0,1331.1 1469.5,1335.4 1469.6,1330.4 1469.8,1325.5 1470.0,1320.5 1470.2,1315.6 1470.4,1310.6 1470.6,1305.7 1470.8,1300.7 1471.0,1295.8 1471.1,1290.8 1471.3,1285.9 1471.5,1280.9 1471.7,1285.8 1471.9,1290.7 1472.1,1295.6 1472.3,1300.4 1472.5,1305.3 1472.7,1310.2 1472.9,1315.1 1473.2,1320.0 1473.4,1324.8 1473.6,1329.7 1473.8,1324.8 1474.0,1319.9 1474.2,1315.0 1474.4,1310.1 1474.6,1305.2 1474.8,1300.2 1475.0,1295.3 1475.2,1290.4 1475.4,1285.5 1475.6,1280.6 1481.0,1284.0 1482.0,1282.0 1483.0,1280.0 1484.0,1278.0 1484.8,1276.0 1485.7,1274.0 1486.5,1272.0 1487.3,1270.0 1487.6,1267.8 1487.9,1265.6 1488.2,1263.5 1488.5,1261.3 1488.8,1259.1 1489.2,1256.9 1489.5,1254.7 1489.8,1252.5 1490.1,1250.4 1490.4,1248.2 1490.7,1246.0 1491.0,1243.9 1491.2,1241.8 1491.5,1239.7 1491.7,1237.6 1492.0,1235.4 1492.2,1233.3 1492.5,1231.2 1492.7,1229.1 1493.0,1227.0 1493.3,1224.8 1493.5,1222.5 1493.8,1220.2 1494.1,1218.0 1494.4,1215.8 1494.6,1213.5 1494.9,1211.2 1495.2,1209.0 1495.4,1206.8 1495.7,1204.5 1496.0,1202.2 1496.3,1200.0 1496.5,1197.8 1496.8,1195.5 1497.0,1193.3 1497.3,1191.2 1497.5,1189.0 1497.7,1186.9 1498.0,1184.7 1498.2,1182.6 1498.4,1180.4 1498.7,1178.2 1498.9,1176.1 1499.1,1173.9 1499.3,1171.8 1499.6,1169.6 1499.8,1167.5 1500.0,1165.3 1500.3,1163.2 1500.5,1161.0 1501.1,1158.9 1501.7,1156.8 1502.2,1154.7 1502.8,1152.5 1503.4,1150.4 1504.0,1148.3 1504.5,1146.2 1505.1,1144.1 1505.7,1142.0 1506.3,1139.8 1506.8,1137.7 1507.4,1135.6 1508.0,1133.5 1508.6,1131.3 1509.2,1129.1 1509.8,1126.9 1510.3,1124.7 1510.9,1122.5 1511.5,1120.2 1512.1,1118.0 1512.7,1115.8 1513.2,1113.6 1513.8,1111.4 1514.4,1109.2 1515.0,1107.0 1515.7,1105.0 1516.5,1103.0 1517.2,1101.0 1517.9,1099.0 1518.7,1097.0 1519.4,1095.0 1519.6,1092.9 1519.8,1090.7 1520.1,1088.6 1520.3,1086.5 1520.5,1084.4 1520.7,1082.2 1520.9,1080.1 1521.1,1078.0 1521.4,1075.9 1521.6,1073.7 1521.8,1071.6 1519.8,1326.0 1520.2,1328.1 1520.5,1330.2 1520.9,1332.3 1521.2,1334.3 1521.6,1336.4 1521.9,1338.5 1522.3,1340.6 1522.8,1342.9 1523.3,1345.2 1523.8,1347.5 1524.3,1349.8 1524.8,1352.1 1525.3,1354.4 1527.3,1355.7 1529.3,1357.0 1531.3,1358.3 1531.8,1104.0 1532.2,1101.8 1532.7,1099.6 1532.9,1101.8 1533.0,1103.9 1533.2,1106.1 1533.3,1108.2 1533.5,1110.4 1533.6,1112.6 1533.8,1114.7 1534.0,1116.9 1534.1,1119.1 1534.3,1121.2 1534.4,1123.4 1534.6,1125.5 1534.7,1127.7 1534.9,1129.9 1535.1,1132.0 1535.2,1134.2 1535.4,1136.4 1535.5,1138.5 1535.7,1140.7 1535.8,1142.8 1536.0,1145.0 1536.2,1147.2 1536.3,1149.5 1536.5,1151.7 1536.6,1153.9 1536.8,1156.2 1536.9,1158.4 1537.0,1160.6 1537.2,1162.9 1537.3,1165.1 1537.5,1167.3 1537.7,1169.6 1537.8,1171.8 1538.0,1174.1 1538.1,1176.3 1538.2,1178.5 1538.4,1180.8 1538.5,1183.0 1538.7,1185.2 1538.8,1187.5 1539.0,1189.7 1539.2,1191.9 1539.3,1194.1 1539.5,1196.3 1539.7,1198.4 1539.9,1200.6 1540.0,1202.8 1540.2,1205.0 1540.4,1207.2 1540.6,1209.4 1540.7,1211.6 1540.9,1213.8 1541.1,1215.9 1541.3,1218.1 1541.4,1220.3 1541.6,1222.5 1541.8,1224.7 1542.0,1226.9 1542.1,1229.1 1542.3,1231.3 1542.5,1233.4 1542.7,1235.6 1542.8,1237.8 1543.0,1240.0 1543.2,1242.2 1543.3,1244.3 1543.5,1246.5 1543.6,1248.6 1543.8,1250.8 1544.0,1252.9 1544.1,1255.0 1544.3,1257.2 1544.4,1259.3 1544.6,1261.5 1544.7,1263.6 1544.9,1265.8 1545.1,1268.0 1545.2,1270.1 1545.4,1272.2 1545.5,1274.4 1545.7,1276.5 1545.8,1278.7 1546.0,1280.8 1546.2,1283.0 1546.3,1285.1 1546.5,1287.3 1546.6,1289.4 1546.8,1291.6 1548.8,1306.0 1548.9,1308.3 1549.0,1310.5 1549.1,1312.8 1549.2,1315.0 1549.3,1317.3 1549.4,1319.5 1549.5,1321.8 1549.6,1324.0 1549.7,1326.3 1549.8,1328.5 1549.9,1330.8 1550.1,1333.0 1550.2,1335.2 1550.4,1337.4 1550.6,1339.7 1550.7,1341.9 1550.9,1344.1 1551.0,1346.3 1551.2,1348.5 1551.5,1350.6 1551.9,1352.6 1552.2,1354.7 1552.6,1356.8 1553.0,1358.8 1553.3,1360.9 1553.7,1362.9 1554.0,1365.0 1557.4,1345.5 1557.8,1350.3 1558.1,1355.1 1558.5,1359.9 1558.8,1364.7 1559.1,1369.6 1559.5,1374.4 1559.8,1369.3 1560.2,1364.3 1560.5,1359.2 1560.9,1354.2 1561.2,1349.2 1561.5,1344.1 1561.9,1349.6 1562.4,1355.0 1562.8,1360.5 1563.2,1365.9 1563.6,1371.4 1563.9,1366.7 1564.3,1361.9 1564.6,1357.2 1565.0,1352.5 1565.3,1347.7 1565.6,1343.0 1566.0,1347.6 1566.3,1352.2 1566.7,1356.7 1567.0,1361.3 1567.3,1365.9 1567.7,1370.5 1568.1,1365.7 1568.5,1360.9 1568.9,1356.1 1569.3,1351.2 1569.7,1346.4 1570.1,1351.2 1570.6,1356.0 1571.0,1360.8 1571.4,1365.6 1571.8,1370.4 1572.5,1365.8 1573.2,1361.2 1573.8,1356.6 1574.9,1362.5 1575.9,1368.4 1577.9,1361.5 1580.0,1367.8 1581.0,1362.9 1582.0,1357.9 1583.1,1363.2 1584.1,1368.4 1584.8,1364.0 1585.5,1359.5 1586.1,1355.1 1586.6,1359.4 1587.2,1363.8 1587.7,1368.2 1588.2,1372.5 1588.7,1367.5 1589.2,1362.5 1589.7,1357.5 1590.2,1352.5 1590.7,1357.9 1591.3,1363.3 1591.8,1368.6 1592.3,1374.0 1592.7,1369.4 1593.1,1364.8 1593.5,1360.2 1593.9,1355.6 1594.3,1351.0 1594.8,1356.5 1595.4,1362.0 1595.9,1367.5 1596.4,1373.0 1596.8,1368.5 1597.2,1363.9 1597.6,1359.4 1598.0,1354.9 1598.4,1350.4 1598.9,1355.5 1599.5,1360.7 1600.0,1365.8 1600.5,1370.9 1601.0,1366.2 1601.5,1361.5 1602.0,1356.8 1602.5,1352.2 1603.0,1356.7 1603.6,1361.3 1604.1,1365.8 1604.6,1370.3 1605.6,1364.4 1606.6,1358.5 1607.3,1363.8 1608.0,1369.1 1608.7,1374.4 1609.7,1369.2 1610.7,1363.9 1611.8,1369.5 1612.8,1375.0 1613.8,1369.2 1614.8,1363.4 1615.9,1369.0 1616.9,1374.5 1617.4,1369.8 1617.9,1365.0 1618.4,1360.2 1618.9,1355.4 1619.4,1360.2 1620.0,1365.0 1620.5,1369.8 1621.0,1374.5 1621.3,1369.5 1621.7,1364.4 1622.0,1359.3 1622.4,1354.2 1622.7,1349.2 1623.0,1344.1 1623.4,1349.2 1623.7,1354.2 1624.1,1359.3 1624.4,1364.4 1624.7,1369.5 1625.1,1374.5 1625.4,1369.9 1625.7,1365.2 1626.0,1360.6 1626.3,1356.0 1626.5,1351.3 1626.8,1346.7 1627.1,1342.0 1627.5,1346.9 1628.0,1351.7 1628.4,1356.6 1628.8,1361.4 1629.2,1366.3 1629.6,1361.2 1630.0,1356.1 1630.4,1351.0 1630.8,1346.0 1631.2,1340.9 1631.9,1345.3 1632.6,1349.7 1633.3,1354.1 1634.0,1349.0 1634.7,1343.9 1635.3,1338.8 1636.4,1342.6 1637.4,1346.4 1638.4,1342.1 1639.4,1337.7 1640.5,1342.3 1641.5,1346.8 1642.5,1342.6 1643.5,1338.3 1644.6,1344.3 1645.6,1350.3 1646.6,1346.7 1647.6,1343.0 1648.3,1347.7 1649.0,1352.4 1649.7,1357.0 1650.7,1353.2 1651.7,1349.4 1652.8,1355.2 1653.8,1361.1 1655.8,1356.2 1656.9,1360.4 1657.9,1364.6 1659.9,1358.5 1661.0,1363.0 1662.0,1367.4 1663.0,1362.9 1664.0,1358.4 1666.1,1365.0 1667.1,1360.5 1668.1,1356.1 1670.2,1362.2 1671.2,1358.2 1672.2,1354.2 1674.3,1359.1 1676.3,1352.5 1678.4,1356.3 1680.4,1351.2 1682.5,1353.8 1684.5,1350.0 1686.6,1351.8 1688.6,1349.3 1690.7,1350.6 1692.7,1348.6 1694.8,1350.7 1696.8,1348.1 1698.9,1350.8 1700.9,1347.6 1703.0,1350.3 1705.0,1347.2 1707.1,1349.9 1709.1,1347.3 1711.2,1350.6 1713.2,1348.4 1715.3,1351.3 1717.3,1349.4 1719.4,1352.1 1721.4,1350.4 1723.5,1352.6 1725.5,1350.3 1727.6,1352.6 1729.6,1350.0 1731.7,1352.6 1733.7,1349.7 1735.8,1352.5 1737.8,1349.4 1739.9,1352.1 1741.9,1349.0" fill="none" stroke="#ff0000" stroke-width="5.0" stroke-linejoin="round" stroke-linecap="round" marker-start="url(#mr)" marker-mid="url(#mr)" marker-end="url(#mr)"/>
<polyline points="1535.3,1227.0 1537.2,1295.0" fill="none" stroke="#ff0000" stroke-width="5.0"/>
</g>
</svg>
</body></html>
